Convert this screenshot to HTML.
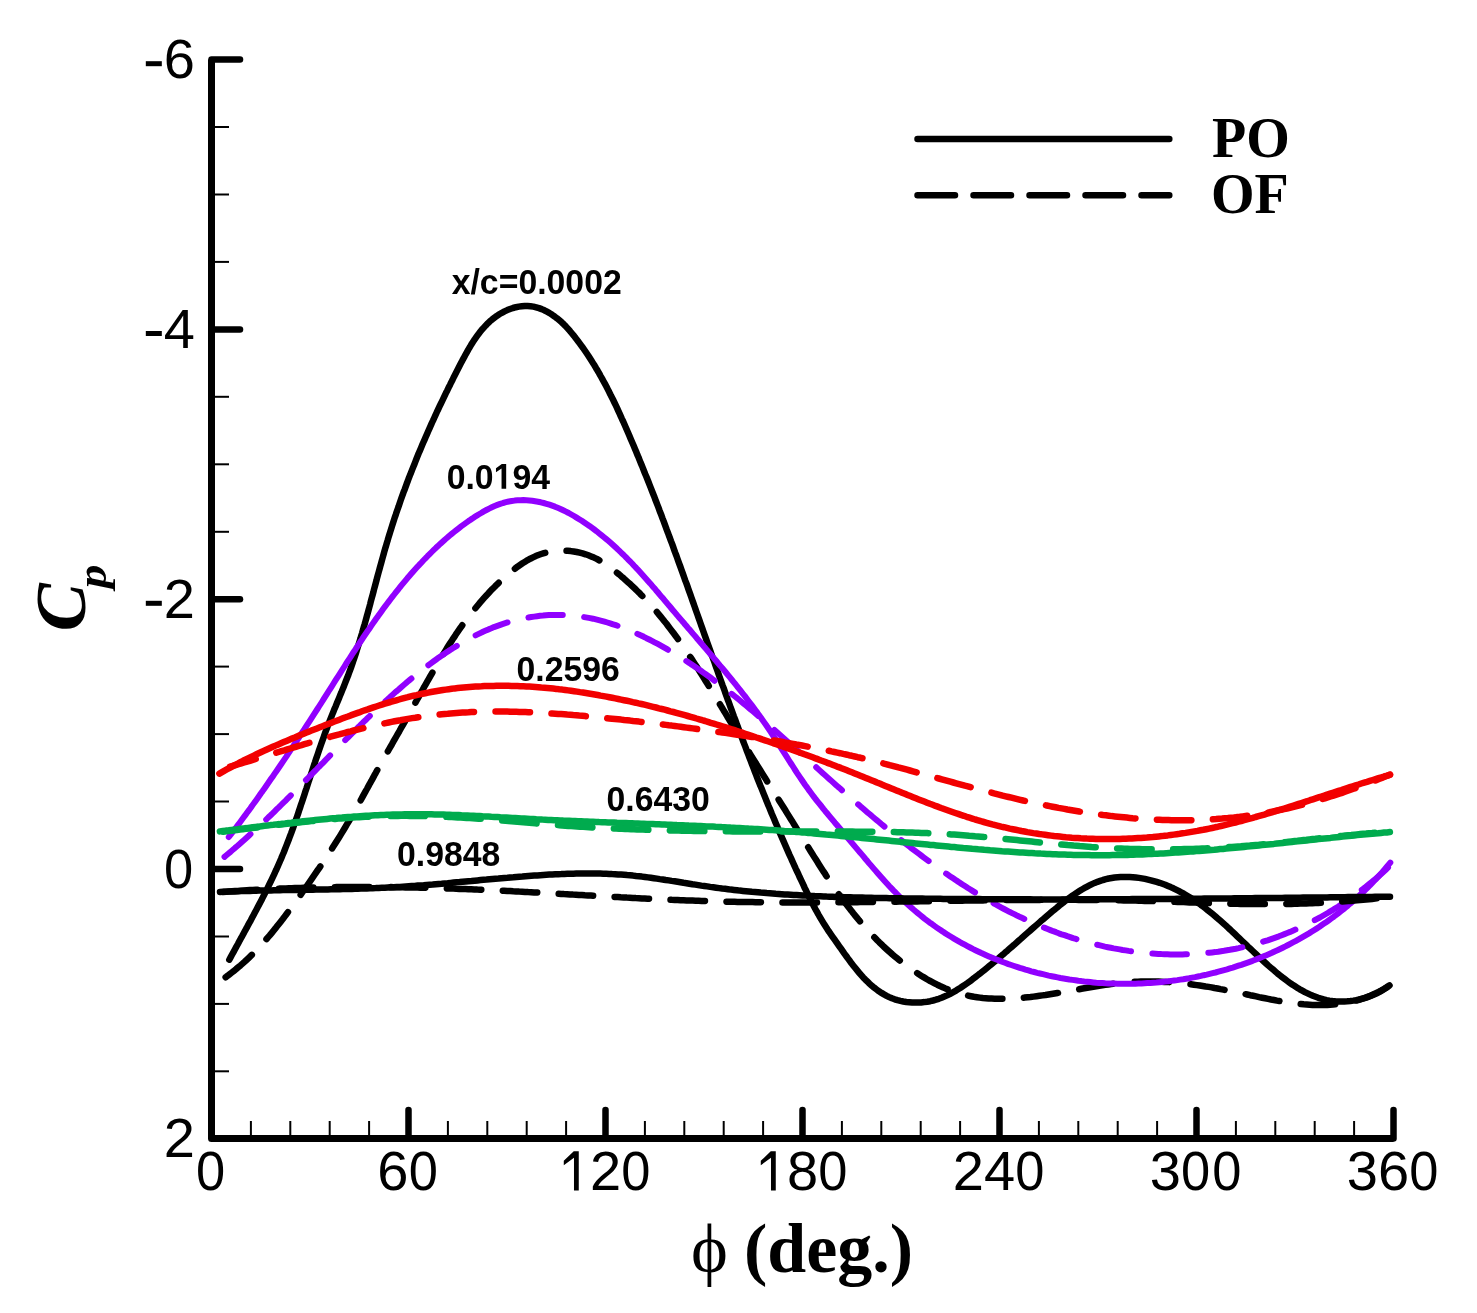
<!DOCTYPE html>
<html><head><meta charset="utf-8"><style>
html,body{margin:0;padding:0;background:#fff;}
svg{display:block;}
.t{font-family:"Liberation Sans",sans-serif;}
.s{font-family:"Liberation Serif",serif;}
</style></head><body>
<svg width="1477" height="1313" viewBox="0 0 1477 1313">
<rect width="1477" height="1313" fill="#fff"/>
<g fill="none" stroke-linecap="round" stroke-linejoin="round">
<path d="M229.3 959.7 L230.7 957.1 L232.1 954.5 L233.6 951.8 L235.0 949.2 L236.4 946.6 L237.9 944.0 L239.3 941.3 L240.7 938.7 L242.2 936.1 L243.6 933.4 L245.0 930.8 L246.5 928.2 L247.9 925.5 L249.3 922.9 L250.8 920.3 L252.2 917.6 L253.6 915.0 L255.0 912.3 L256.4 909.7 L257.8 907.0 L259.2 904.4 L260.6 901.7 L262.0 899.1 L263.3 896.4 L264.7 893.7 L266.0 891.1 L267.4 888.4 L268.7 885.7 L270.0 883.0 L271.3 880.3 L272.6 877.6 L273.9 874.9 L275.1 872.2 L276.4 869.5 L277.6 866.7 L278.8 864.0 L280.0 861.3 L281.2 858.5 L282.3 855.7 L283.5 853.0 L284.6 850.2 L285.7 847.4 L286.8 844.6 L287.9 841.8 L289.0 839.0 L290.0 836.2 L291.1 833.4 L292.1 830.6 L293.1 827.8 L294.1 825.0 L295.1 822.1 L296.1 819.3 L297.1 816.5 L298.1 813.6 L299.0 810.8 L300.0 807.9 L300.9 805.1 L301.9 802.2 L302.8 799.4 L303.8 796.5 L304.7 793.7 L305.6 790.8 L306.6 788.0 L307.5 785.1 L308.4 782.2 L309.4 779.4 L310.3 776.5 L311.2 773.7 L312.2 770.8 L313.1 768.0 L314.0 765.1 L315.0 762.3 L315.9 759.4 L316.9 756.6 L317.9 753.7 L318.8 750.9 L319.8 748.1 L320.8 745.2 L321.8 742.4 L322.8 739.6 L323.8 736.8 L324.8 733.9 L325.8 731.1 L326.9 728.3 L327.9 725.5 L329.0 722.8 L330.1 720.0 L331.2 717.2 L332.3 714.4 L333.4 711.7 L334.5 708.9 L335.7 706.2 L336.8 703.4 L338.0 700.6 L339.1 697.9 L340.2 695.1 L341.4 692.4 L342.5 689.6 L343.6 686.9 L344.7 684.1 L345.8 681.3 L346.9 678.5 L348.0 675.8 L349.0 673.0 L350.1 670.1 L351.1 667.3 L352.1 664.5 L353.0 661.7 L354.0 658.9 L355.0 656.0 L355.9 653.2 L356.8 650.3 L357.7 647.4 L358.6 644.6 L359.5 641.7 L360.4 638.8 L361.2 636.0 L362.1 633.1 L362.9 630.2 L363.7 627.3 L364.6 624.4 L365.4 621.5 L366.2 618.6 L367.0 615.7 L367.8 612.8 L368.6 609.9 L369.4 607.0 L370.2 604.0 L370.9 601.1 L371.7 598.2 L372.5 595.3 L373.3 592.4 L374.0 589.5 L374.8 586.6 L375.6 583.6 L376.4 580.7 L377.1 577.8 L377.9 574.9 L378.7 572.0 L379.5 569.1 L380.3 566.2 L381.1 563.3 L381.9 560.4 L382.7 557.5 L383.5 554.6 L384.3 551.7 L385.1 548.8 L386.0 546.0 L386.8 543.1 L387.7 540.2 L388.5 537.4 L389.4 534.5 L390.3 531.6 L391.2 528.8 L392.1 525.9 L393.0 523.1 L393.9 520.3 L394.8 517.4 L395.8 514.6 L396.7 511.8 L397.7 509.0 L398.7 506.2 L399.6 503.4 L400.6 500.5 L401.6 497.7 L402.6 494.9 L403.6 492.1 L404.7 489.4 L405.7 486.6 L406.7 483.8 L407.8 481.0 L408.8 478.2 L409.9 475.4 L411.0 472.7 L412.1 469.9 L413.2 467.1 L414.3 464.4 L415.4 461.6 L416.5 458.8 L417.6 456.1 L418.7 453.3 L419.9 450.6 L421.1 447.8 L422.2 445.1 L423.4 442.3 L424.6 439.6 L425.8 436.8 L427.0 434.1 L428.2 431.3 L429.4 428.6 L430.6 425.9 L431.8 423.1 L433.1 420.4 L434.3 417.7 L435.6 414.9 L436.8 412.2 L438.1 409.5 L439.4 406.7 L440.7 404.0 L442.0 401.3 L443.3 398.6 L444.6 395.8 L445.9 393.1 L447.3 390.4 L448.6 387.6 L450.0 384.9 L451.3 382.2 L452.7 379.5 L454.0 376.7 L455.4 374.0 L456.8 371.3 L458.2 368.6 L459.6 365.8 L461.0 363.1 L462.4 360.4 L463.9 357.7 L465.3 355.0 L466.8 352.3 L468.3 349.6 L469.9 347.0 L471.4 344.4 L473.1 341.8 L474.7 339.3 L476.4 336.9 L478.2 334.4 L480.0 332.1 L481.8 329.8 L483.8 327.6 L485.8 325.4 L487.8 323.3 L489.9 321.3 L492.2 319.4 L494.5 317.6 L496.8 315.9 L499.3 314.3 L501.9 312.8 L504.5 311.4 L507.3 310.1 L510.1 309.0 L513.0 308.0 L515.9 307.2 L518.8 306.6 L521.8 306.2 L524.7 305.9 L527.6 306.0 L530.5 306.2 L533.4 306.6 L536.2 307.3 L539.0 308.1 L541.7 309.1 L544.4 310.3 L547.0 311.7 L549.6 313.1 L552.2 314.8 L554.6 316.5 L557.0 318.3 L559.4 320.3 L561.7 322.3 L563.9 324.4 L566.0 326.6 L568.1 328.9 L570.1 331.2 L572.0 333.5 L574.0 335.9 L575.8 338.3 L577.7 340.7 L579.5 343.1 L581.3 345.6 L583.1 348.0 L584.8 350.5 L586.5 353.0 L588.2 355.5 L589.8 358.0 L591.4 360.5 L593.0 363.1 L594.6 365.6 L596.1 368.2 L597.7 370.8 L599.2 373.4 L600.6 376.0 L602.1 378.6 L603.5 381.2 L605.0 383.9 L606.4 386.5 L607.7 389.1 L609.1 391.8 L610.4 394.5 L611.8 397.2 L613.1 399.8 L614.4 402.5 L615.7 405.2 L617.0 407.9 L618.2 410.6 L619.5 413.4 L620.7 416.1 L621.9 418.8 L623.2 421.5 L624.4 424.3 L625.6 427.0 L626.8 429.8 L628.0 432.5 L629.2 435.3 L630.3 438.0 L631.5 440.8 L632.7 443.5 L633.9 446.3 L635.0 449.0 L636.2 451.8 L637.3 454.6 L638.5 457.3 L639.6 460.1 L640.7 462.9 L641.9 465.6 L643.0 468.4 L644.1 471.2 L645.2 474.0 L646.4 476.7 L647.5 479.5 L648.6 482.3 L649.7 485.1 L650.8 487.9 L651.9 490.7 L653.0 493.5 L654.1 496.2 L655.1 499.0 L656.2 501.8 L657.3 504.6 L658.4 507.4 L659.4 510.2 L660.5 513.0 L661.6 515.8 L662.6 518.6 L663.7 521.4 L664.7 524.2 L665.8 527.1 L666.8 529.9 L667.9 532.7 L668.9 535.5 L670.0 538.3 L671.0 541.1 L672.1 543.9 L673.1 546.7 L674.1 549.6 L675.1 552.4 L676.2 555.2 L677.2 558.0 L678.2 560.8 L679.2 563.6 L680.3 566.5 L681.3 569.3 L682.3 572.1 L683.3 574.9 L684.3 577.8 L685.3 580.6 L686.4 583.4 L687.4 586.2 L688.4 589.1 L689.4 591.9 L690.4 594.7 L691.4 597.5 L692.4 600.4 L693.4 603.2 L694.4 606.0 L695.4 608.8 L696.4 611.7 L697.4 614.5 L698.4 617.3 L699.4 620.1 L700.4 623.0 L701.4 625.8 L702.4 628.6 L703.4 631.5 L704.4 634.3 L705.4 637.1 L706.4 639.9 L707.4 642.8 L708.4 645.6 L709.4 648.4 L710.4 651.2 L711.4 654.1 L712.4 656.9 L713.5 659.7 L714.5 662.5 L715.5 665.4 L716.5 668.2 L717.5 671.0 L718.5 673.8 L719.5 676.7 L720.5 679.5 L721.5 682.3 L722.5 685.1 L723.6 687.9 L724.6 690.8 L725.6 693.6 L726.6 696.4 L727.6 699.2 L728.7 702.0 L729.7 704.8 L730.7 707.7 L731.8 710.5 L732.8 713.3 L733.8 716.1 L734.9 718.9 L735.9 721.7 L736.9 724.5 L738.0 727.3 L739.0 730.1 L740.1 732.9 L741.1 735.7 L742.2 738.5 L743.2 741.3 L744.3 744.1 L745.4 746.9 L746.4 749.7 L747.5 752.5 L748.6 755.3 L749.6 758.1 L750.7 760.9 L751.8 763.7 L752.9 766.5 L754.0 769.3 L755.0 772.1 L756.1 774.9 L757.2 777.7 L758.3 780.5 L759.4 783.2 L760.5 786.0 L761.7 788.8 L762.8 791.6 L763.9 794.4 L765.0 797.1 L766.1 799.9 L767.3 802.7 L768.4 805.5 L769.6 808.2 L770.7 811.0 L771.8 813.8 L773.0 816.5 L774.2 819.3 L775.3 822.1 L776.5 824.8 L777.7 827.6 L778.8 830.4 L780.0 833.1 L781.2 835.9 L782.4 838.6 L783.6 841.4 L784.8 844.1 L786.0 846.9 L787.2 849.6 L788.4 852.4 L789.6 855.1 L790.9 857.8 L792.1 860.6 L793.3 863.3 L794.6 866.1 L795.8 868.8 L797.1 871.5 L798.4 874.2 L799.6 877.0 L800.9 879.7 L802.2 882.4 L803.5 885.1 L804.7 887.9 L806.1 890.6 L807.4 893.3 L808.7 896.0 L810.0 898.7 L811.4 901.3 L812.7 904.0 L814.1 906.6 L815.5 909.3 L817.0 911.9 L818.4 914.5 L819.9 917.1 L821.4 919.6 L822.9 922.1 L824.4 924.6 L826.0 927.1 L827.6 929.6 L829.3 932.0 L830.9 934.4 L832.6 936.8 L834.3 939.2 L836.0 941.6 L837.6 943.9 L839.3 946.3 L841.0 948.7 L842.7 951.2 L844.4 953.6 L846.2 956.0 L847.9 958.4 L849.7 960.8 L851.5 963.3 L853.4 965.7 L855.3 968.1 L857.2 970.4 L859.2 972.8 L861.2 975.1 L863.2 977.4 L865.3 979.6 L867.5 981.7 L869.7 983.8 L871.9 985.8 L874.2 987.7 L876.6 989.5 L879.0 991.3 L881.5 992.9 L884.0 994.4 L886.6 995.8 L889.2 997.1 L891.9 998.3 L894.7 999.3 L897.5 1000.2 L900.4 1000.9 L903.3 1001.5 L906.3 1002.0 L909.2 1002.3 L912.2 1002.6 L915.2 1002.6 L918.2 1002.6 L921.2 1002.4 L924.2 1002.1 L927.2 1001.7 L930.2 1001.2 L933.1 1000.5 L936.0 999.7 L938.8 998.8 L941.6 997.8 L944.4 996.6 L947.1 995.4 L949.8 994.1 L952.4 992.7 L955.1 991.2 L957.6 989.6 L960.2 988.0 L962.7 986.3 L965.2 984.6 L967.7 982.9 L970.2 981.1 L972.6 979.2 L975.0 977.4 L977.4 975.5 L979.8 973.7 L982.2 971.8 L984.5 969.9 L986.9 968.0 L989.2 966.1 L991.5 964.2 L993.8 962.3 L996.1 960.4 L998.4 958.4 L1000.6 956.5 L1002.9 954.6 L1005.1 952.6 L1007.4 950.7 L1009.6 948.7 L1011.9 946.7 L1014.1 944.8 L1016.3 942.8 L1018.6 940.8 L1020.8 938.9 L1023.0 936.9 L1025.2 934.9 L1027.5 932.9 L1029.7 931.0 L1031.9 929.0 L1034.2 927.0 L1036.4 925.1 L1038.7 923.1 L1040.9 921.1 L1043.2 919.2 L1045.5 917.2 L1047.8 915.2 L1050.1 913.3 L1052.4 911.3 L1054.7 909.4 L1057.1 907.5 L1059.4 905.5 L1061.8 903.6 L1064.2 901.8 L1066.6 899.9 L1069.0 898.1 L1071.5 896.3 L1074.0 894.6 L1076.5 892.9 L1079.0 891.3 L1081.5 889.7 L1084.1 888.2 L1086.7 886.8 L1089.4 885.4 L1092.0 884.1 L1094.7 882.9 L1097.5 881.8 L1100.2 880.9 L1103.0 880.0 L1105.9 879.2 L1108.7 878.5 L1111.7 878.0 L1114.6 877.5 L1117.6 877.2 L1120.6 877.0 L1123.6 876.9 L1126.7 876.9 L1129.7 877.0 L1132.8 877.2 L1135.8 877.5 L1138.9 877.9 L1141.9 878.4 L1144.9 878.9 L1147.9 879.6 L1150.9 880.3 L1153.8 881.1 L1156.7 881.9 L1159.6 882.8 L1162.4 883.8 L1165.2 884.8 L1168.0 886.0 L1170.7 887.1 L1173.4 888.3 L1176.0 889.6 L1178.6 890.9 L1181.2 892.3 L1183.8 893.7 L1186.3 895.2 L1188.8 896.7 L1191.3 898.3 L1193.8 899.9 L1196.2 901.6 L1198.6 903.2 L1201.0 905.0 L1203.4 906.7 L1205.7 908.5 L1208.0 910.4 L1210.3 912.2 L1212.6 914.1 L1214.9 916.0 L1217.2 918.0 L1219.5 919.9 L1221.7 921.9 L1223.9 923.9 L1226.2 925.9 L1228.4 928.0 L1230.6 930.0 L1232.8 932.1 L1235.0 934.2 L1237.2 936.3 L1239.4 938.4 L1241.6 940.5 L1243.8 942.6 L1246.0 944.7 L1248.2 946.8 L1250.5 948.9 L1252.7 951.0 L1254.9 953.1 L1257.1 955.2 L1259.4 957.3 L1261.6 959.4 L1263.9 961.5 L1266.1 963.5 L1268.4 965.6 L1270.7 967.6 L1273.1 969.6 L1275.4 971.6 L1277.7 973.6 L1280.1 975.5 L1282.5 977.4 L1284.9 979.2 L1287.3 981.0 L1289.8 982.8 L1292.2 984.5 L1294.7 986.1 L1297.2 987.7 L1299.8 989.3 L1302.3 990.7 L1304.9 992.1 L1307.6 993.4 L1310.2 994.6 L1312.9 995.8 L1315.6 996.8 L1318.3 997.8 L1321.0 998.6 L1323.8 999.4 L1326.6 1000.1 L1329.5 1000.6 L1332.4 1001.0 L1335.3 1001.3 L1338.2 1001.5 L1341.2 1001.6 L1344.2 1001.5 L1347.2 1001.3 L1350.3 1001.0 L1353.3 1000.6 L1356.3 1000.1 L1359.4 999.4 L1362.4 998.7 L1365.3 997.8 L1368.3 996.8 L1371.2 995.8 L1374.0 994.6 L1376.8 993.3 L1379.5 991.9 L1382.1 990.4 L1384.7 988.8 L1387.2 987.2 L1389.5 985.4" stroke="#000" stroke-width="6.5"/>
<path d="M223.9 978.4 L226.4 976.7 L228.8 974.9 L231.2 973.0 L233.6 971.2 L235.9 969.3 L238.2 967.3 L240.5 965.4 L242.8 963.4 L245.0 961.4 L247.2 959.3 L249.3 957.3 L251.5 955.2 L253.6 953.1 L255.7 950.9 L257.7 948.8 L259.8 946.6 L261.8 944.4 L263.8 942.1 L265.8 939.9 L267.7 937.6 L269.7 935.4 L271.6 933.1 L273.5 930.7 L275.4 928.4 L277.2 926.1 L279.1 923.7 L280.9 921.4 L282.8 919.0 L284.6 916.6 L286.4 914.2 L288.2 911.8 L290.0 909.4 L291.8 907.0 L293.5 904.5 L295.3 902.1 L297.1 899.7 L298.8 897.2 L300.6 894.8 L302.3 892.4 L304.0 889.9 L305.8 887.5 L307.5 885.0 L309.2 882.6 L310.9 880.1 L312.6 877.6 L314.3 875.2 L316.0 872.7 L317.7 870.2 L319.4 867.8 L321.1 865.3 L322.7 862.8 L324.4 860.3 L326.0 857.8 L327.7 855.3 L329.3 852.8 L330.9 850.3 L332.5 847.8 L334.1 845.3 L335.7 842.7 L337.3 840.2 L338.9 837.7 L340.5 835.1 L342.0 832.6 L343.6 830.0 L345.1 827.5 L346.6 824.9 L348.2 822.3 L349.7 819.8 L351.2 817.2 L352.6 814.6 L354.1 812.0 L355.6 809.4 L357.1 806.8 L358.5 804.2 L360.0 801.6 L361.4 799.0 L362.8 796.4 L364.3 793.7 L365.7 791.1 L367.2 788.5 L368.6 785.9 L370.0 783.3 L371.5 780.7 L372.9 778.1 L374.3 775.4 L375.8 772.8 L377.2 770.2 L378.7 767.6 L380.1 765.0 L381.6 762.4 L383.0 759.8 L384.5 757.2 L386.0 754.6 L387.4 752.1 L388.9 749.5 L390.4 746.9 L391.9 744.3 L393.3 741.7 L394.8 739.1 L396.3 736.5 L397.8 733.9 L399.3 731.3 L400.7 728.7 L402.2 726.1 L403.7 723.6 L405.2 721.0 L406.6 718.3 L408.1 715.7 L409.6 713.1 L411.1 710.5 L412.5 707.9 L414.0 705.3 L415.4 702.7 L416.9 700.0 L418.4 697.4 L419.8 694.8 L421.3 692.2 L422.8 689.5 L424.2 686.9 L425.7 684.3 L427.2 681.7 L428.7 679.1 L430.2 676.4 L431.7 673.8 L433.2 671.2 L434.7 668.6 L436.2 666.0 L437.7 663.5 L439.2 660.9 L440.8 658.3 L442.3 655.7 L443.9 653.2 L445.5 650.6 L447.0 648.1 L448.6 645.6 L450.2 643.1 L451.9 640.6 L453.5 638.1 L455.2 635.6 L456.8 633.1 L458.5 630.7 L460.2 628.2 L461.9 625.8 L463.7 623.4 L465.4 621.0 L467.2 618.6 L469.0 616.3 L470.8 613.9 L472.6 611.6 L474.5 609.3 L476.4 607.0 L478.3 604.7 L480.2 602.4 L482.2 600.1 L484.1 597.9 L486.1 595.7 L488.2 593.5 L490.2 591.3 L492.3 589.1 L494.5 587.0 L496.6 584.8 L498.8 582.7 L501.0 580.6 L503.3 578.5 L505.5 576.4 L507.9 574.4 L510.2 572.4 L512.6 570.5 L515.0 568.6 L517.5 566.7 L520.0 565.0 L522.5 563.3 L525.1 561.7 L527.7 560.1 L530.3 558.7 L533.0 557.4 L535.7 556.1 L538.4 555.0 L541.2 554.0 L544.0 553.1 L546.9 552.3 L549.8 551.7 L552.7 551.3 L555.7 550.9 L558.7 550.7 L561.7 550.6 L564.7 550.6 L567.7 550.8 L570.7 551.1 L573.7 551.5 L576.7 552.0 L579.6 552.7 L582.6 553.4 L585.5 554.3 L588.4 555.3 L591.2 556.4 L594.0 557.6 L596.8 558.9 L599.4 560.4 L602.1 561.9 L604.6 563.5 L607.1 565.2 L609.6 567.0 L612.0 568.8 L614.4 570.6 L616.7 572.5 L619.1 574.4 L621.4 576.4 L623.7 578.3 L625.9 580.3 L628.1 582.3 L630.4 584.3 L632.5 586.3 L634.7 588.4 L636.8 590.5 L639.0 592.6 L641.0 594.7 L643.1 596.8 L645.2 599.0 L647.2 601.2 L649.2 603.4 L651.2 605.6 L653.2 607.8 L655.1 610.0 L657.1 612.3 L659.0 614.6 L660.9 616.9 L662.8 619.2 L664.6 621.5 L666.5 623.8 L668.3 626.2 L670.1 628.6 L671.9 630.9 L673.7 633.3 L675.5 635.7 L677.3 638.2 L679.0 640.6 L680.7 643.0 L682.5 645.5 L684.2 647.9 L685.9 650.4 L687.6 652.9 L689.2 655.4 L690.9 657.9 L692.6 660.4 L694.2 662.9 L695.8 665.4 L697.5 667.9 L699.1 670.5 L700.7 673.0 L702.3 675.5 L703.9 678.1 L705.5 680.7 L707.1 683.2 L708.7 685.8 L710.3 688.3 L711.8 690.9 L713.4 693.5 L715.0 696.1 L716.5 698.6 L718.1 701.2 L719.6 703.8 L721.2 706.4 L722.8 709.0 L724.3 711.6 L725.9 714.1 L727.4 716.7 L729.0 719.3 L730.5 721.9 L732.1 724.5 L733.6 727.0 L735.2 729.6 L736.7 732.2 L738.3 734.7 L739.8 737.3 L741.4 739.8 L743.0 742.4 L744.5 745.0 L746.1 747.5 L747.7 750.1 L749.3 752.6 L750.8 755.1 L752.4 757.7 L754.0 760.2 L755.6 762.7 L757.1 765.3 L758.7 767.8 L760.3 770.3 L761.9 772.9 L763.5 775.4 L765.1 777.9 L766.6 780.5 L768.2 783.0 L769.8 785.5 L771.4 788.0 L773.0 790.6 L774.6 793.1 L776.2 795.6 L777.7 798.1 L779.3 800.7 L780.9 803.2 L782.5 805.7 L784.1 808.3 L785.7 810.8 L787.2 813.3 L788.8 815.9 L790.4 818.4 L792.0 820.9 L793.5 823.5 L795.1 826.0 L796.7 828.6 L798.2 831.1 L799.8 833.6 L801.4 836.2 L802.9 838.7 L804.5 841.3 L806.1 843.8 L807.7 846.4 L809.2 848.9 L810.8 851.5 L812.4 854.0 L814.0 856.6 L815.6 859.1 L817.2 861.6 L818.8 864.2 L820.4 866.7 L822.0 869.2 L823.6 871.7 L825.3 874.2 L826.9 876.8 L828.6 879.3 L830.3 881.7 L832.0 884.2 L833.7 886.7 L835.4 889.2 L837.1 891.6 L838.8 894.1 L840.6 896.5 L842.4 898.9 L844.1 901.4 L845.9 903.8 L847.8 906.2 L849.6 908.5 L851.5 910.9 L853.3 913.3 L855.2 915.6 L857.1 917.9 L859.0 920.2 L861.0 922.5 L862.9 924.8 L864.9 927.1 L866.9 929.3 L868.9 931.5 L871.0 933.7 L873.0 935.9 L875.1 938.0 L877.2 940.2 L879.3 942.3 L881.5 944.4 L883.6 946.5 L885.8 948.5 L888.0 950.5 L890.3 952.5 L892.5 954.5 L894.8 956.4 L897.1 958.3 L899.4 960.2 L901.8 962.1 L904.1 963.9 L906.5 965.7 L909.0 967.5 L911.4 969.2 L913.9 970.9 L916.4 972.6 L918.9 974.3 L921.5 975.9 L924.0 977.4 L926.6 979.0 L929.2 980.5 L931.9 981.9 L934.6 983.3 L937.3 984.7 L940.0 986.0 L942.7 987.2 L945.4 988.4 L948.2 989.5 L951.0 990.6 L953.8 991.6 L956.6 992.6 L959.5 993.4 L962.3 994.2 L965.2 995.0 L968.1 995.6 L971.0 996.2 L973.9 996.8 L976.9 997.2 L979.8 997.6 L982.8 998.0 L985.7 998.2 L988.7 998.5 L991.7 998.6 L994.6 998.7 L997.6 998.8 L1000.6 998.8 L1003.6 998.8 L1006.6 998.8 L1009.6 998.7 L1012.6 998.5 L1015.6 998.3 L1018.6 998.1 L1021.6 997.9 L1024.6 997.6 L1027.6 997.3 L1030.5 997.0 L1033.5 996.6 L1036.5 996.2 L1039.5 995.8 L1042.5 995.4 L1045.5 995.0 L1048.5 994.5 L1051.5 994.0 L1054.5 993.5 L1057.5 993.0 L1060.5 992.5 L1063.4 992.0 L1066.4 991.5 L1069.4 991.0 L1072.4 990.4 L1075.4 989.9 L1078.4 989.4 L1081.4 988.8 L1084.3 988.3 L1087.3 987.8 L1090.3 987.3 L1093.3 986.8 L1096.3 986.3 L1099.2 985.8 L1102.2 985.4 L1105.2 984.9 L1108.2 984.5 L1111.1 984.1 L1114.1 983.7 L1117.1 983.4 L1120.0 983.0 L1123.0 982.7 L1126.0 982.5 L1128.9 982.2 L1131.9 982.0 L1134.9 981.8 L1137.8 981.7 L1140.8 981.6 L1143.7 981.5 L1146.7 981.5 L1149.6 981.5 L1152.6 981.5 L1155.5 981.5 L1158.5 981.6 L1161.4 981.7 L1164.4 981.9 L1167.3 982.0 L1170.3 982.2 L1173.2 982.5 L1176.2 982.7 L1179.1 983.0 L1182.1 983.3 L1185.0 983.6 L1188.0 983.9 L1190.9 984.3 L1193.9 984.7 L1196.8 985.1 L1199.8 985.5 L1202.7 986.0 L1205.7 986.5 L1208.6 986.9 L1211.6 987.4 L1214.5 988.0 L1217.5 988.5 L1220.5 989.1 L1223.4 989.6 L1226.4 990.2 L1229.4 990.8 L1232.3 991.4 L1235.3 992.0 L1238.3 992.6 L1241.2 993.3 L1244.2 993.9 L1247.2 994.5 L1250.2 995.2 L1253.2 995.8 L1256.1 996.4 L1259.1 997.1 L1262.1 997.7 L1265.1 998.3 L1268.1 998.9 L1271.0 999.5 L1274.0 1000.0 L1277.0 1000.6 L1280.0 1001.1 L1282.9 1001.6 L1285.9 1002.1 L1288.9 1002.5 L1291.9 1002.9 L1294.8 1003.3 L1297.8 1003.7 L1300.7 1004.0 L1303.7 1004.3 L1306.7 1004.5 L1309.6 1004.7 L1312.6 1004.9 L1315.5 1005.0 L1318.4 1005.1 L1321.4 1005.1 L1324.3 1005.0 L1327.2 1005.0 L1330.1 1004.8 L1333.0 1004.6 L1335.9 1004.3 L1338.8 1004.0 L1341.7 1003.6 L1344.6 1003.2 L1347.5 1002.6 L1350.4 1002.1 L1353.3 1001.4 L1356.1 1000.6 L1359.0 999.8 L1361.8 998.9 L1364.6 998.0 L1367.5 996.9 L1370.3 995.8 L1373.1 994.5 L1375.9 993.2 L1378.7 991.8 L1381.5 990.3 L1384.3 988.7 L1387.0 987.0 L1389.8 985.2" stroke="#000" stroke-width="6.5" stroke-dasharray="34.5 21.5" stroke-dashoffset="53.9"/>
<path d="M228.8 837.0 L230.6 834.6 L232.4 832.3 L234.3 829.9 L236.1 827.5 L237.9 825.1 L239.7 822.7 L241.5 820.2 L243.3 817.8 L245.1 815.4 L246.8 813.0 L248.6 810.6 L250.4 808.2 L252.1 805.7 L253.9 803.3 L255.6 800.9 L257.4 798.4 L259.1 796.0 L260.8 793.5 L262.6 791.1 L264.3 788.7 L266.0 786.2 L267.7 783.8 L269.4 781.3 L271.1 778.8 L272.8 776.4 L274.5 773.9 L276.2 771.5 L277.9 769.0 L279.6 766.5 L281.3 764.0 L282.9 761.6 L284.6 759.1 L286.3 756.6 L287.9 754.1 L289.6 751.6 L291.2 749.2 L292.9 746.7 L294.5 744.2 L296.2 741.7 L297.8 739.2 L299.5 736.7 L301.1 734.2 L302.7 731.7 L304.4 729.2 L306.0 726.7 L307.6 724.2 L309.3 721.6 L310.9 719.1 L312.5 716.6 L314.1 714.1 L315.7 711.6 L317.4 709.0 L319.0 706.5 L320.6 704.0 L322.2 701.5 L323.8 698.9 L325.4 696.4 L327.0 693.9 L328.6 691.3 L330.2 688.8 L331.8 686.3 L333.4 683.7 L335.0 681.2 L336.6 678.7 L338.3 676.1 L339.9 673.6 L341.5 671.0 L343.1 668.5 L344.7 666.0 L346.3 663.4 L347.9 660.9 L349.6 658.4 L351.2 655.9 L352.8 653.3 L354.5 650.8 L356.1 648.3 L357.8 645.8 L359.4 643.3 L361.1 640.8 L362.7 638.3 L364.4 635.8 L366.1 633.3 L367.8 630.8 L369.5 628.4 L371.2 625.9 L372.9 623.4 L374.6 621.0 L376.3 618.5 L378.1 616.1 L379.8 613.7 L381.6 611.2 L383.3 608.8 L385.1 606.4 L386.9 604.0 L388.7 601.6 L390.5 599.2 L392.3 596.9 L394.2 594.5 L396.0 592.2 L397.9 589.8 L399.7 587.5 L401.6 585.2 L403.5 582.9 L405.4 580.6 L407.3 578.3 L409.3 576.0 L411.2 573.8 L413.2 571.5 L415.2 569.3 L417.2 567.1 L419.2 564.9 L421.3 562.7 L423.3 560.5 L425.4 558.4 L427.5 556.2 L429.6 554.1 L431.7 552.0 L433.8 549.9 L436.0 547.8 L438.2 545.8 L440.4 543.7 L442.6 541.7 L444.8 539.7 L447.1 537.8 L449.4 535.8 L451.7 533.9 L454.0 532.0 L456.4 530.1 L458.7 528.3 L461.1 526.4 L463.6 524.6 L466.0 522.9 L468.5 521.1 L471.0 519.4 L473.5 517.8 L476.0 516.1 L478.6 514.5 L481.2 513.0 L483.8 511.4 L486.4 510.0 L489.1 508.6 L491.8 507.3 L494.6 506.0 L497.4 504.9 L500.2 503.9 L503.0 503.0 L505.9 502.2 L508.8 501.5 L511.7 501.0 L514.6 500.6 L517.6 500.3 L520.5 500.2 L523.4 500.1 L526.4 500.2 L529.3 500.4 L532.2 500.7 L535.1 501.2 L538.0 501.7 L540.8 502.3 L543.7 503.0 L546.5 503.8 L549.4 504.7 L552.2 505.7 L555.0 506.7 L557.7 507.8 L560.5 509.0 L563.2 510.3 L566.0 511.6 L568.7 513.0 L571.3 514.5 L574.0 516.0 L576.6 517.6 L579.2 519.2 L581.8 520.8 L584.3 522.5 L586.9 524.2 L589.4 525.9 L591.8 527.7 L594.3 529.5 L596.7 531.3 L599.0 533.2 L601.4 535.1 L603.7 537.0 L606.0 538.9 L608.3 540.8 L610.6 542.8 L612.8 544.8 L615.0 546.8 L617.2 548.8 L619.4 550.9 L621.5 553.0 L623.7 555.0 L625.8 557.1 L627.9 559.3 L630.0 561.4 L632.1 563.5 L634.1 565.7 L636.2 567.9 L638.2 570.1 L640.2 572.3 L642.2 574.5 L644.2 576.7 L646.2 578.9 L648.2 581.2 L650.2 583.4 L652.1 585.7 L654.1 587.9 L656.0 590.2 L658.0 592.5 L659.9 594.8 L661.8 597.1 L663.8 599.3 L665.7 601.6 L667.6 603.9 L669.6 606.2 L671.5 608.5 L673.4 610.8 L675.4 613.1 L677.3 615.4 L679.3 617.7 L681.2 619.9 L683.2 622.2 L685.1 624.5 L687.1 626.8 L689.0 629.1 L691.0 631.3 L692.9 633.6 L694.9 635.9 L696.8 638.2 L698.8 640.5 L700.7 642.7 L702.7 645.0 L704.6 647.3 L706.6 649.6 L708.5 651.9 L710.5 654.2 L712.4 656.4 L714.3 658.7 L716.3 661.0 L718.2 663.3 L720.1 665.6 L722.1 667.9 L724.0 670.2 L725.9 672.5 L727.8 674.9 L729.7 677.2 L731.6 679.5 L733.5 681.8 L735.4 684.2 L737.2 686.5 L739.1 688.8 L741.0 691.2 L742.8 693.6 L744.7 695.9 L746.5 698.3 L748.3 700.7 L750.1 703.0 L751.9 705.4 L753.7 707.8 L755.5 710.2 L757.3 712.6 L759.0 715.1 L760.8 717.5 L762.5 719.9 L764.2 722.4 L765.9 724.8 L767.6 727.3 L769.3 729.8 L771.0 732.3 L772.6 734.8 L774.2 737.3 L775.9 739.8 L777.5 742.3 L779.1 744.8 L780.7 747.3 L782.3 749.9 L783.9 752.4 L785.5 754.9 L787.1 757.4 L788.7 760.0 L790.3 762.5 L792.0 765.0 L793.6 767.5 L795.2 770.1 L796.8 772.6 L798.5 775.1 L800.2 777.6 L801.8 780.0 L803.5 782.5 L805.2 785.0 L807.0 787.4 L808.7 789.9 L810.5 792.3 L812.3 794.7 L814.1 797.1 L815.9 799.5 L817.8 801.8 L819.7 804.2 L821.6 806.5 L823.4 808.9 L825.3 811.2 L827.3 813.5 L829.2 815.8 L831.1 818.1 L833.0 820.4 L834.9 822.7 L836.9 825.0 L838.8 827.2 L840.7 829.5 L842.6 831.8 L844.5 834.0 L846.4 836.3 L848.3 838.6 L850.2 840.8 L852.1 843.1 L854.0 845.4 L855.9 847.6 L857.8 849.9 L859.8 852.2 L861.7 854.4 L863.6 856.7 L865.5 859.0 L867.5 861.3 L869.4 863.6 L871.4 865.9 L873.3 868.1 L875.3 870.4 L877.3 872.7 L879.3 875.0 L881.3 877.2 L883.3 879.5 L885.3 881.7 L887.4 884.0 L889.4 886.2 L891.5 888.4 L893.6 890.6 L895.7 892.7 L897.8 894.9 L899.9 897.0 L902.1 899.1 L904.3 901.2 L906.5 903.3 L908.7 905.3 L910.9 907.3 L913.2 909.3 L915.5 911.2 L917.8 913.1 L920.1 915.0 L922.4 916.9 L924.8 918.8 L927.2 920.6 L929.5 922.4 L932.0 924.1 L934.4 925.9 L936.8 927.6 L939.3 929.3 L941.8 930.9 L944.3 932.6 L946.8 934.2 L949.3 935.8 L951.8 937.3 L954.4 938.9 L957.0 940.4 L959.6 941.9 L962.2 943.3 L964.8 944.7 L967.4 946.1 L970.1 947.5 L972.7 948.9 L975.4 950.2 L978.1 951.5 L980.8 952.8 L983.5 954.0 L986.2 955.2 L988.9 956.4 L991.7 957.6 L994.5 958.7 L997.2 959.8 L1000.0 960.9 L1002.8 962.0 L1005.6 963.0 L1008.4 964.1 L1011.2 965.0 L1014.1 966.0 L1016.9 966.9 L1019.8 967.9 L1022.6 968.7 L1025.5 969.6 L1028.4 970.4 L1031.3 971.3 L1034.2 972.0 L1037.1 972.8 L1040.0 973.5 L1042.9 974.2 L1045.8 974.9 L1048.7 975.6 L1051.7 976.2 L1054.6 976.8 L1057.6 977.4 L1060.5 978.0 L1063.5 978.5 L1066.4 979.0 L1069.4 979.5 L1072.4 979.9 L1075.4 980.3 L1078.3 980.8 L1081.3 981.1 L1084.3 981.5 L1087.3 981.8 L1090.3 982.1 L1093.3 982.4 L1096.3 982.7 L1099.3 982.9 L1102.3 983.1 L1105.3 983.3 L1108.3 983.4 L1111.3 983.5 L1114.3 983.6 L1117.3 983.7 L1120.3 983.8 L1123.3 983.8 L1126.3 983.8 L1129.3 983.8 L1132.4 983.7 L1135.4 983.7 L1138.4 983.6 L1141.4 983.5 L1144.4 983.3 L1147.4 983.1 L1150.4 982.9 L1153.4 982.7 L1156.4 982.5 L1159.4 982.2 L1162.3 981.9 L1165.3 981.6 L1168.3 981.3 L1171.3 980.9 L1174.3 980.5 L1177.3 980.1 L1180.2 979.6 L1183.2 979.2 L1186.1 978.7 L1189.1 978.2 L1192.1 977.6 L1195.0 977.1 L1197.9 976.5 L1200.9 975.9 L1203.8 975.2 L1206.7 974.6 L1209.7 973.9 L1212.6 973.2 L1215.5 972.5 L1218.4 971.7 L1221.3 970.9 L1224.2 970.1 L1227.0 969.3 L1229.9 968.4 L1232.8 967.6 L1235.6 966.7 L1238.5 965.7 L1241.3 964.8 L1244.1 963.8 L1247.0 962.8 L1249.8 961.8 L1252.6 960.8 L1255.4 959.7 L1258.2 958.6 L1260.9 957.5 L1263.7 956.3 L1266.4 955.2 L1269.2 954.0 L1271.9 952.8 L1274.6 951.5 L1277.4 950.3 L1280.1 949.0 L1282.7 947.7 L1285.4 946.4 L1288.1 945.0 L1290.7 943.6 L1293.4 942.2 L1296.0 940.8 L1298.6 939.4 L1301.2 937.9 L1303.8 936.4 L1306.4 934.9 L1309.0 933.4 L1311.5 931.8 L1314.0 930.2 L1316.6 928.6 L1319.1 927.0 L1321.5 925.3 L1324.0 923.6 L1326.5 921.9 L1328.9 920.2 L1331.4 918.4 L1333.8 916.7 L1336.2 914.9 L1338.5 913.1 L1340.9 911.2 L1343.3 909.4 L1345.6 907.5 L1347.9 905.6 L1350.2 903.6 L1352.5 901.7 L1354.7 899.7 L1357.0 897.7 L1359.2 895.7 L1361.4 893.6 L1363.6 891.5 L1365.8 889.4 L1367.9 887.3 L1370.1 885.2 L1372.2 883.0 L1374.3 880.8 L1376.4 878.6 L1378.4 876.4 L1380.4 874.2 L1382.5 871.9 L1384.4 869.6 L1386.4 867.3 L1388.4 864.9 L1390.3 862.6" stroke="#9100FF" stroke-width="6.0"/>
<path d="M223.5 857.7 L225.8 855.8 L228.2 853.8 L230.5 851.9 L232.7 849.9 L235.0 847.9 L237.3 846.0 L239.6 844.0 L241.8 842.0 L244.1 840.0 L246.3 838.0 L248.5 836.0 L250.7 833.9 L253.0 831.9 L255.2 829.9 L257.4 827.8 L259.6 825.8 L261.7 823.7 L263.9 821.7 L266.1 819.6 L268.2 817.5 L270.4 815.5 L272.6 813.4 L274.7 811.3 L276.8 809.2 L279.0 807.1 L281.1 805.0 L283.2 802.9 L285.4 800.8 L287.5 798.7 L289.6 796.6 L291.7 794.5 L293.8 792.4 L295.9 790.3 L298.0 788.1 L300.1 786.0 L302.2 783.9 L304.3 781.8 L306.4 779.6 L308.5 777.5 L310.6 775.4 L312.7 773.2 L314.8 771.1 L316.9 769.0 L319.0 766.8 L321.1 764.7 L323.2 762.6 L325.3 760.4 L327.3 758.3 L329.4 756.2 L331.5 754.1 L333.6 751.9 L335.7 749.8 L337.8 747.7 L339.9 745.5 L342.0 743.4 L344.1 741.3 L346.2 739.2 L348.4 737.1 L350.5 735.0 L352.6 732.8 L354.7 730.7 L356.8 728.6 L359.0 726.5 L361.1 724.4 L363.2 722.3 L365.4 720.3 L367.5 718.2 L369.7 716.1 L371.8 714.0 L374.0 712.0 L376.2 709.9 L378.4 707.8 L380.6 705.8 L382.7 703.7 L384.9 701.7 L387.2 699.7 L389.4 697.7 L391.6 695.6 L393.8 693.6 L396.1 691.6 L398.4 689.7 L400.6 687.7 L402.9 685.7 L405.2 683.8 L407.5 681.8 L409.8 679.9 L412.1 678.0 L414.5 676.1 L416.8 674.2 L419.2 672.3 L421.6 670.4 L424.0 668.5 L426.4 666.7 L428.8 664.9 L431.2 663.1 L433.7 661.3 L436.2 659.5 L438.6 657.7 L441.1 656.0 L443.7 654.3 L446.2 652.6 L448.7 650.9 L451.3 649.3 L453.8 647.6 L456.4 646.1 L459.0 644.5 L461.6 642.9 L464.3 641.4 L466.9 640.0 L469.6 638.5 L472.2 637.1 L474.9 635.7 L477.6 634.4 L480.3 633.1 L483.0 631.8 L485.8 630.6 L488.5 629.4 L491.3 628.3 L494.0 627.1 L496.8 626.1 L499.6 625.1 L502.4 624.1 L505.3 623.2 L508.1 622.3 L511.0 621.4 L513.8 620.7 L516.7 619.9 L519.6 619.2 L522.5 618.6 L525.4 618.0 L528.3 617.5 L531.2 617.0 L534.2 616.6 L537.1 616.2 L540.0 615.8 L543.0 615.6 L545.9 615.3 L548.9 615.1 L551.8 615.0 L554.8 614.9 L557.7 614.9 L560.7 614.9 L563.7 615.0 L566.6 615.2 L569.6 615.3 L572.5 615.6 L575.4 615.9 L578.4 616.2 L581.3 616.6 L584.2 617.1 L587.2 617.6 L590.1 618.1 L593.0 618.7 L595.9 619.4 L598.8 620.1 L601.6 620.8 L604.5 621.6 L607.4 622.5 L610.2 623.4 L613.1 624.3 L615.9 625.2 L618.8 626.2 L621.6 627.3 L624.4 628.4 L627.2 629.5 L630.0 630.6 L632.8 631.8 L635.5 633.0 L638.3 634.3 L641.1 635.5 L643.8 636.8 L646.5 638.2 L649.2 639.5 L651.9 640.9 L654.6 642.3 L657.3 643.7 L660.0 645.2 L662.6 646.7 L665.3 648.2 L667.9 649.7 L670.5 651.2 L673.1 652.8 L675.7 654.3 L678.3 655.9 L680.8 657.5 L683.4 659.1 L685.9 660.8 L688.5 662.4 L691.0 664.1 L693.5 665.7 L696.0 667.4 L698.4 669.1 L700.9 670.8 L703.4 672.6 L705.8 674.3 L708.2 676.0 L710.7 677.8 L713.1 679.6 L715.5 681.4 L717.9 683.2 L720.3 685.0 L722.7 686.8 L725.0 688.6 L727.4 690.5 L729.7 692.3 L732.1 694.2 L734.4 696.0 L736.8 697.9 L739.1 699.8 L741.4 701.7 L743.7 703.6 L746.0 705.5 L748.3 707.4 L750.6 709.4 L752.9 711.3 L755.2 713.2 L757.5 715.2 L759.8 717.1 L762.0 719.1 L764.3 721.0 L766.5 723.0 L768.8 725.0 L771.1 726.9 L773.3 728.9 L775.6 730.9 L777.8 732.9 L780.0 734.9 L782.3 736.9 L784.5 738.9 L786.8 740.9 L789.0 742.9 L791.2 744.9 L793.5 746.9 L795.7 748.9 L797.9 750.9 L800.1 752.9 L802.4 754.9 L804.6 756.9 L806.8 758.9 L809.1 760.9 L811.3 762.9 L813.5 764.9 L815.8 766.9 L818.0 768.9 L820.2 770.9 L822.5 772.9 L824.7 774.9 L826.9 776.9 L829.2 778.9 L831.4 780.9 L833.6 782.9 L835.9 784.9 L838.1 786.9 L840.4 788.8 L842.6 790.8 L844.9 792.8 L847.1 794.8 L849.4 796.8 L851.6 798.7 L853.9 800.7 L856.2 802.7 L858.4 804.6 L860.7 806.6 L863.0 808.5 L865.3 810.5 L867.5 812.4 L869.8 814.3 L872.1 816.3 L874.4 818.2 L876.7 820.1 L879.0 822.0 L881.3 824.0 L883.6 825.9 L885.9 827.8 L888.2 829.7 L890.5 831.6 L892.9 833.4 L895.2 835.3 L897.5 837.2 L899.9 839.1 L902.2 840.9 L904.6 842.8 L906.9 844.6 L909.3 846.5 L911.6 848.3 L914.0 850.1 L916.4 851.9 L918.8 853.7 L921.2 855.5 L923.6 857.3 L926.0 859.1 L928.4 860.9 L930.8 862.6 L933.2 864.4 L935.6 866.2 L938.1 867.9 L940.5 869.6 L943.0 871.3 L945.4 873.1 L947.9 874.8 L950.3 876.4 L952.8 878.1 L955.3 879.8 L957.8 881.4 L960.3 883.1 L962.8 884.7 L965.3 886.3 L967.9 888.0 L970.4 889.5 L972.9 891.1 L975.5 892.7 L978.0 894.3 L980.6 895.8 L983.2 897.3 L985.8 898.8 L988.3 900.3 L991.0 901.8 L993.6 903.3 L996.2 904.7 L998.8 906.2 L1001.4 907.6 L1004.1 909.0 L1006.7 910.4 L1009.4 911.8 L1012.1 913.1 L1014.8 914.4 L1017.5 915.8 L1020.2 917.1 L1022.9 918.3 L1025.6 919.6 L1028.3 920.9 L1031.0 922.1 L1033.8 923.3 L1036.5 924.5 L1039.3 925.6 L1042.0 926.8 L1044.8 927.9 L1047.6 929.0 L1050.4 930.1 L1053.2 931.2 L1056.0 932.2 L1058.8 933.3 L1061.6 934.3 L1064.5 935.2 L1067.3 936.2 L1070.2 937.1 L1073.0 938.1 L1075.9 938.9 L1078.7 939.8 L1081.6 940.7 L1084.5 941.5 L1087.4 942.3 L1090.3 943.1 L1093.2 943.8 L1096.1 944.5 L1099.0 945.2 L1102.0 945.9 L1104.9 946.6 L1107.8 947.2 L1110.8 947.8 L1113.7 948.4 L1116.7 948.9 L1119.7 949.4 L1122.6 950.0 L1125.6 950.4 L1128.6 950.9 L1131.5 951.3 L1134.5 951.7 L1137.5 952.1 L1140.5 952.4 L1143.5 952.7 L1146.4 953.0 L1149.4 953.3 L1152.4 953.5 L1155.4 953.7 L1158.4 953.9 L1161.4 954.1 L1164.4 954.2 L1167.4 954.3 L1170.4 954.4 L1173.4 954.4 L1176.4 954.5 L1179.4 954.4 L1182.4 954.4 L1185.4 954.3 L1188.3 954.2 L1191.3 954.1 L1194.3 954.0 L1197.3 953.8 L1200.3 953.6 L1203.3 953.3 L1206.2 953.0 L1209.2 952.7 L1212.2 952.4 L1215.2 952.1 L1218.1 951.7 L1221.1 951.2 L1224.0 950.8 L1227.0 950.3 L1229.9 949.8 L1232.9 949.2 L1235.8 948.7 L1238.7 948.1 L1241.6 947.4 L1244.5 946.8 L1247.4 946.1 L1250.3 945.3 L1253.2 944.6 L1256.1 943.8 L1259.0 942.9 L1261.9 942.1 L1264.7 941.2 L1267.6 940.3 L1270.4 939.3 L1273.3 938.3 L1276.1 937.3 L1278.9 936.3 L1281.7 935.2 L1284.5 934.1 L1287.3 933.0 L1290.1 931.9 L1292.8 930.7 L1295.6 929.5 L1298.3 928.3 L1301.1 927.0 L1303.8 925.7 L1306.5 924.4 L1309.2 923.1 L1311.9 921.7 L1314.6 920.3 L1317.2 918.9 L1319.9 917.5 L1322.5 916.0 L1325.1 914.5 L1327.7 913.0 L1330.3 911.4 L1332.9 909.9 L1335.4 908.3 L1338.0 906.7 L1340.5 905.0 L1343.1 903.4 L1345.6 901.7 L1348.0 900.0 L1350.5 898.3 L1353.0 896.5 L1355.4 894.8 L1357.8 893.0 L1360.2 891.2 L1362.6 889.3 L1365.0 887.5 L1367.3 885.6 L1369.7 883.7 L1372.0 881.8 L1374.3 879.9 L1376.6 877.9 L1378.8 876.0 L1381.1 874.0 L1383.3 872.0 L1385.5 870.0 L1387.7 867.9 L1389.9 865.8" stroke="#9100FF" stroke-width="6.0" stroke-dasharray="34.5 21.5" stroke-dashoffset="54.7"/>
<path d="M219.4 773.6 L222.0 772.1 L224.6 770.6 L227.2 769.2 L229.8 767.8 L232.5 766.3 L235.1 764.9 L237.8 763.6 L240.4 762.2 L243.1 760.8 L245.8 759.5 L248.5 758.2 L251.1 756.9 L253.8 755.6 L256.5 754.3 L259.2 753.0 L261.9 751.7 L264.6 750.5 L267.4 749.2 L270.1 748.0 L272.8 746.8 L275.5 745.6 L278.3 744.4 L281.0 743.2 L283.8 742.0 L286.5 740.9 L289.3 739.7 L292.0 738.5 L294.8 737.4 L297.6 736.2 L300.3 735.1 L303.1 734.0 L305.9 732.8 L308.7 731.7 L311.4 730.6 L314.2 729.5 L317.0 728.4 L319.8 727.3 L322.6 726.2 L325.4 725.1 L328.2 724.0 L331.0 722.9 L333.8 721.8 L336.6 720.8 L339.4 719.7 L342.2 718.6 L345.0 717.5 L347.9 716.5 L350.7 715.4 L353.5 714.4 L356.3 713.4 L359.2 712.4 L362.0 711.3 L364.8 710.3 L367.7 709.4 L370.5 708.4 L373.4 707.4 L376.2 706.5 L379.1 705.5 L381.9 704.6 L384.8 703.7 L387.6 702.8 L390.5 702.0 L393.4 701.1 L396.3 700.3 L399.1 699.5 L402.0 698.7 L404.9 697.9 L407.8 697.2 L410.7 696.4 L413.6 695.7 L416.5 695.1 L419.4 694.4 L422.3 693.8 L425.3 693.2 L428.2 692.6 L431.1 692.0 L434.0 691.5 L437.0 691.0 L439.9 690.5 L442.9 690.0 L445.8 689.6 L448.8 689.2 L451.7 688.8 L454.7 688.4 L457.7 688.1 L460.6 687.8 L463.6 687.5 L466.6 687.2 L469.6 687.0 L472.5 686.8 L475.5 686.6 L478.5 686.4 L481.5 686.3 L484.5 686.1 L487.5 686.0 L490.5 685.9 L493.4 685.9 L496.4 685.8 L499.4 685.8 L502.4 685.8 L505.4 685.8 L508.4 685.8 L511.4 685.9 L514.4 685.9 L517.4 686.0 L520.4 686.2 L523.4 686.3 L526.4 686.4 L529.4 686.6 L532.4 686.8 L535.4 687.0 L538.3 687.2 L541.3 687.5 L544.3 687.7 L547.3 688.0 L550.3 688.3 L553.3 688.6 L556.2 688.9 L559.2 689.3 L562.2 689.6 L565.2 690.0 L568.1 690.4 L571.1 690.8 L574.1 691.2 L577.0 691.6 L580.0 692.1 L582.9 692.5 L585.9 693.0 L588.8 693.5 L591.8 694.0 L594.7 694.5 L597.7 695.0 L600.6 695.6 L603.5 696.1 L606.5 696.6 L609.4 697.2 L612.3 697.8 L615.3 698.4 L618.2 699.0 L621.1 699.6 L624.0 700.2 L627.0 700.8 L629.9 701.4 L632.8 702.1 L635.7 702.7 L638.6 703.4 L641.5 704.0 L644.4 704.7 L647.3 705.4 L650.2 706.1 L653.1 706.8 L656.0 707.5 L658.9 708.3 L661.8 709.0 L664.7 709.7 L667.6 710.5 L670.5 711.3 L673.4 712.0 L676.3 712.8 L679.2 713.6 L682.1 714.4 L684.9 715.2 L687.8 716.0 L690.7 716.8 L693.6 717.6 L696.5 718.5 L699.3 719.3 L702.2 720.2 L705.1 721.0 L707.9 721.9 L710.8 722.8 L713.7 723.6 L716.5 724.5 L719.4 725.4 L722.3 726.3 L725.1 727.2 L728.0 728.1 L730.8 729.0 L733.7 729.9 L736.5 730.9 L739.4 731.8 L742.2 732.7 L745.1 733.7 L747.9 734.6 L750.8 735.5 L753.6 736.5 L756.4 737.5 L759.3 738.4 L762.1 739.4 L764.9 740.3 L767.8 741.3 L770.6 742.3 L773.4 743.3 L776.3 744.2 L779.1 745.2 L781.9 746.2 L784.7 747.2 L787.5 748.2 L790.4 749.2 L793.2 750.2 L796.0 751.2 L798.8 752.2 L801.6 753.2 L804.4 754.3 L807.2 755.3 L810.0 756.3 L812.8 757.3 L815.6 758.4 L818.4 759.4 L821.2 760.5 L824.0 761.5 L826.8 762.6 L829.6 763.6 L832.4 764.7 L835.2 765.8 L838.0 766.9 L840.8 767.9 L843.6 769.0 L846.3 770.1 L849.1 771.2 L851.9 772.3 L854.7 773.4 L857.5 774.6 L860.3 775.7 L863.0 776.8 L865.8 777.9 L868.6 779.1 L871.4 780.2 L874.2 781.3 L876.9 782.5 L879.7 783.6 L882.5 784.8 L885.3 785.9 L888.1 787.0 L890.9 788.2 L893.6 789.3 L896.4 790.4 L899.2 791.6 L902.0 792.7 L904.8 793.8 L907.6 795.0 L910.4 796.1 L913.1 797.2 L915.9 798.3 L918.7 799.4 L921.5 800.5 L924.3 801.6 L927.1 802.7 L929.9 803.8 L932.7 804.8 L935.5 805.9 L938.4 806.9 L941.2 808.0 L944.0 809.0 L946.8 810.0 L949.6 811.0 L952.4 812.0 L955.3 813.0 L958.1 813.9 L960.9 814.9 L963.8 815.8 L966.6 816.8 L969.5 817.7 L972.3 818.6 L975.2 819.5 L978.1 820.3 L980.9 821.2 L983.8 822.0 L986.7 822.8 L989.5 823.6 L992.4 824.4 L995.3 825.1 L998.2 825.8 L1001.1 826.6 L1004.0 827.2 L1006.9 827.9 L1009.8 828.6 L1012.8 829.2 L1015.7 829.8 L1018.6 830.4 L1021.6 831.0 L1024.5 831.5 L1027.4 832.1 L1030.4 832.6 L1033.3 833.1 L1036.3 833.5 L1039.2 834.0 L1042.2 834.4 L1045.2 834.8 L1048.1 835.2 L1051.1 835.6 L1054.1 836.0 L1057.1 836.3 L1060.0 836.6 L1063.0 836.9 L1066.0 837.2 L1069.0 837.4 L1072.0 837.7 L1075.0 837.9 L1077.9 838.1 L1080.9 838.3 L1083.9 838.4 L1086.9 838.6 L1089.9 838.7 L1092.9 838.8 L1095.9 838.9 L1098.9 839.0 L1101.9 839.0 L1104.9 839.0 L1107.9 839.0 L1110.9 839.0 L1113.9 839.0 L1116.9 839.0 L1119.9 838.9 L1122.9 838.8 L1125.9 838.7 L1128.9 838.6 L1131.9 838.5 L1134.9 838.3 L1137.9 838.1 L1140.9 837.9 L1143.9 837.7 L1146.9 837.5 L1149.9 837.2 L1152.9 837.0 L1155.9 836.7 L1158.8 836.4 L1161.8 836.1 L1164.8 835.7 L1167.8 835.4 L1170.8 835.0 L1173.7 834.6 L1176.7 834.2 L1179.7 833.8 L1182.6 833.3 L1185.6 832.9 L1188.6 832.4 L1191.5 831.9 L1194.5 831.4 L1197.4 830.9 L1200.4 830.3 L1203.3 829.8 L1206.2 829.2 L1209.2 828.6 L1212.1 828.0 L1215.0 827.3 L1218.0 826.7 L1220.9 826.0 L1223.8 825.3 L1226.7 824.6 L1229.6 823.9 L1232.5 823.2 L1235.4 822.5 L1238.3 821.7 L1241.2 821.0 L1244.1 820.2 L1247.0 819.4 L1249.9 818.7 L1252.8 817.9 L1255.6 817.0 L1258.5 816.2 L1261.4 815.4 L1264.3 814.6 L1267.1 813.7 L1270.0 812.8 L1272.9 812.0 L1275.8 811.1 L1278.6 810.2 L1281.5 809.4 L1284.3 808.5 L1287.2 807.6 L1290.1 806.7 L1292.9 805.8 L1295.8 804.8 L1298.6 803.9 L1301.5 803.0 L1304.3 802.1 L1307.2 801.2 L1310.0 800.2 L1312.9 799.3 L1315.7 798.4 L1318.6 797.4 L1321.4 796.5 L1324.3 795.6 L1327.1 794.6 L1330.0 793.7 L1332.8 792.8 L1335.7 791.8 L1338.5 790.9 L1341.4 790.0 L1344.2 789.0 L1347.1 788.1 L1349.9 787.2 L1352.8 786.3 L1355.6 785.4 L1358.5 784.5 L1361.3 783.5 L1364.2 782.6 L1367.0 781.8 L1369.9 780.9 L1372.8 780.0 L1375.6 779.1 L1378.5 778.2 L1381.3 777.4 L1384.2 776.5 L1387.1 775.7 L1389.9 774.8" stroke="#F20000" stroke-width="6.5"/>
<path d="M230.0 766.7 L232.8 765.9 L235.7 765.1 L238.5 764.2 L241.4 763.3 L244.2 762.5 L247.1 761.6 L249.9 760.8 L252.8 759.9 L255.7 759.0 L258.5 758.1 L261.4 757.3 L264.2 756.4 L267.1 755.5 L270.0 754.6 L272.8 753.8 L275.7 752.9 L278.6 752.0 L281.4 751.1 L284.3 750.3 L287.2 749.4 L290.1 748.5 L292.9 747.7 L295.8 746.8 L298.7 745.9 L301.6 745.1 L304.5 744.2 L307.3 743.4 L310.2 742.5 L313.1 741.7 L316.0 740.8 L318.9 740.0 L321.8 739.2 L324.7 738.4 L327.6 737.5 L330.5 736.7 L333.4 735.9 L336.3 735.1 L339.2 734.4 L342.1 733.6 L345.0 732.8 L347.9 732.0 L350.8 731.3 L353.7 730.5 L356.6 729.8 L359.5 729.1 L362.4 728.4 L365.3 727.7 L368.3 727.0 L371.2 726.3 L374.1 725.6 L377.0 725.0 L379.9 724.3 L382.9 723.7 L385.8 723.1 L388.7 722.5 L391.6 721.9 L394.6 721.3 L397.5 720.7 L400.4 720.2 L403.4 719.6 L406.3 719.1 L409.3 718.6 L412.2 718.1 L415.2 717.7 L418.1 717.2 L421.1 716.8 L424.0 716.4 L427.0 716.0 L429.9 715.6 L432.9 715.2 L435.8 714.9 L438.8 714.5 L441.7 714.2 L444.7 713.9 L447.7 713.7 L450.6 713.4 L453.6 713.2 L456.6 713.0 L459.6 712.8 L462.5 712.6 L465.5 712.4 L468.5 712.3 L471.5 712.1 L474.4 712.0 L477.4 711.9 L480.4 711.8 L483.4 711.7 L486.4 711.7 L489.4 711.6 L492.3 711.6 L495.3 711.6 L498.3 711.6 L501.3 711.6 L504.3 711.6 L507.3 711.6 L510.3 711.7 L513.3 711.8 L516.3 711.8 L519.3 711.9 L522.3 712.0 L525.3 712.1 L528.3 712.2 L531.3 712.4 L534.3 712.5 L537.3 712.6 L540.2 712.8 L543.2 713.0 L546.2 713.1 L549.2 713.3 L552.2 713.5 L555.2 713.7 L558.2 713.9 L561.2 714.1 L564.2 714.3 L567.2 714.6 L570.2 714.8 L573.2 715.1 L576.2 715.3 L579.2 715.6 L582.2 715.8 L585.2 716.1 L588.2 716.4 L591.2 716.6 L594.2 716.9 L597.2 717.2 L600.2 717.5 L603.2 717.8 L606.2 718.1 L609.2 718.4 L612.1 718.7 L615.1 719.0 L618.1 719.3 L621.1 719.6 L624.1 720.0 L627.1 720.3 L630.1 720.6 L633.1 721.0 L636.0 721.3 L639.0 721.6 L642.0 722.0 L645.0 722.3 L648.0 722.7 L651.0 723.0 L653.9 723.4 L656.9 723.8 L659.9 724.1 L662.9 724.5 L665.9 724.9 L668.8 725.3 L671.8 725.6 L674.8 726.0 L677.8 726.4 L680.8 726.8 L683.7 727.2 L686.7 727.6 L689.7 728.0 L692.7 728.4 L695.6 728.8 L698.6 729.2 L701.6 729.6 L704.5 730.0 L707.5 730.4 L710.5 730.8 L713.5 731.2 L716.4 731.7 L719.4 732.1 L722.4 732.5 L725.3 732.9 L728.3 733.4 L731.3 733.8 L734.2 734.3 L737.2 734.7 L740.1 735.1 L743.1 735.6 L746.1 736.0 L749.0 736.5 L752.0 737.0 L754.9 737.4 L757.9 737.9 L760.9 738.4 L763.8 738.9 L766.8 739.3 L769.7 739.8 L772.7 740.3 L775.6 740.8 L778.6 741.3 L781.5 741.8 L784.5 742.4 L787.4 742.9 L790.4 743.4 L793.3 743.9 L796.3 744.5 L799.2 745.0 L802.1 745.5 L805.1 746.1 L808.0 746.7 L810.9 747.2 L813.9 747.8 L816.8 748.4 L819.8 749.0 L822.7 749.5 L825.6 750.1 L828.5 750.7 L831.5 751.4 L834.4 752.0 L837.3 752.6 L840.2 753.2 L843.2 753.9 L846.1 754.5 L849.0 755.2 L851.9 755.8 L854.8 756.5 L857.7 757.2 L860.7 757.8 L863.6 758.5 L866.5 759.2 L869.4 759.9 L872.3 760.7 L875.2 761.4 L878.1 762.1 L881.0 762.8 L883.9 763.6 L886.8 764.3 L889.7 765.1 L892.6 765.8 L895.5 766.6 L898.4 767.4 L901.3 768.1 L904.2 768.9 L907.1 769.7 L910.0 770.5 L912.9 771.3 L915.7 772.1 L918.6 772.9 L921.5 773.7 L924.4 774.5 L927.3 775.3 L930.2 776.1 L933.1 776.9 L936.0 777.7 L938.9 778.5 L941.8 779.3 L944.7 780.1 L947.5 780.9 L950.4 781.7 L953.3 782.5 L956.2 783.3 L959.1 784.1 L962.0 784.9 L964.9 785.7 L967.8 786.4 L970.7 787.2 L973.6 788.0 L976.5 788.8 L979.4 789.6 L982.3 790.3 L985.2 791.1 L988.1 791.9 L991.1 792.6 L994.0 793.4 L996.9 794.1 L999.8 794.8 L1002.7 795.6 L1005.6 796.3 L1008.6 797.0 L1011.5 797.7 L1014.4 798.4 L1017.3 799.1 L1020.3 799.8 L1023.2 800.5 L1026.1 801.1 L1029.1 801.8 L1032.0 802.4 L1034.9 803.1 L1037.9 803.7 L1040.8 804.3 L1043.8 804.9 L1046.7 805.5 L1049.7 806.1 L1052.6 806.7 L1055.6 807.3 L1058.5 807.9 L1061.5 808.4 L1064.4 808.9 L1067.4 809.5 L1070.3 810.0 L1073.3 810.5 L1076.3 811.0 L1079.2 811.5 L1082.2 812.0 L1085.2 812.4 L1088.1 812.9 L1091.1 813.3 L1094.1 813.8 L1097.0 814.2 L1100.0 814.6 L1103.0 815.0 L1105.9 815.3 L1108.9 815.7 L1111.9 816.1 L1114.9 816.4 L1117.8 816.7 L1120.8 817.0 L1123.8 817.3 L1126.8 817.6 L1129.7 817.9 L1132.7 818.2 L1135.7 818.4 L1138.7 818.6 L1141.7 818.8 L1144.6 819.0 L1147.6 819.2 L1150.6 819.4 L1153.6 819.6 L1156.5 819.7 L1159.5 819.8 L1162.5 819.9 L1165.5 820.0 L1168.5 820.1 L1171.4 820.2 L1174.4 820.2 L1177.4 820.2 L1180.4 820.3 L1183.3 820.2 L1186.3 820.2 L1189.3 820.2 L1192.3 820.1 L1195.3 820.1 L1198.2 820.0 L1201.2 819.9 L1204.2 819.7 L1207.1 819.6 L1210.1 819.4 L1213.1 819.3 L1216.1 819.1 L1219.0 818.8 L1222.0 818.6 L1225.0 818.3 L1227.9 818.1 L1230.9 817.8 L1233.9 817.5 L1236.8 817.1 L1239.8 816.8 L1242.8 816.4 L1245.7 816.0 L1248.7 815.6 L1251.6 815.2 L1254.6 814.7 L1257.5 814.3 L1260.5 813.8 L1263.4 813.3 L1266.4 812.7 L1269.3 812.2 L1272.3 811.6 L1275.2 811.0 L1278.2 810.4 L1281.1 809.8 L1284.0 809.1 L1287.0 808.5 L1289.9 807.8 L1292.8 807.1 L1295.8 806.4 L1298.7 805.7 L1301.6 804.9 L1304.5 804.1 L1307.4 803.4 L1310.4 802.6 L1313.3 801.7 L1316.2 800.9 L1319.1 800.1 L1322.0 799.2 L1324.9 798.3 L1327.7 797.4 L1330.6 796.5 L1333.5 795.6 L1336.4 794.7 L1339.3 793.7 L1342.1 792.8 L1345.0 791.8 L1347.8 790.8 L1350.7 789.8 L1353.5 788.8 L1356.4 787.8 L1359.2 786.7 L1362.1 785.7 L1364.9 784.6 L1367.7 783.5 L1370.5 782.4 L1373.4 781.3 L1376.2 780.2 L1379.0 779.1 L1381.8 778.0 L1384.5 776.8 L1387.3 775.7 L1390.1 774.5" stroke="#F20000" stroke-width="6.5" stroke-dasharray="34.5 21.5" stroke-dashoffset="7.6"/>
<path d="M219.9 831.4 L222.9 831.0 L225.9 830.6 L228.8 830.3 L231.8 829.9 L234.8 829.5 L237.8 829.2 L240.7 828.8 L243.7 828.4 L246.7 828.1 L249.7 827.7 L252.6 827.3 L255.6 826.9 L258.6 826.6 L261.6 826.2 L264.5 825.8 L267.5 825.5 L270.5 825.1 L273.5 824.8 L276.4 824.4 L279.4 824.1 L282.4 823.7 L285.4 823.4 L288.3 823.0 L291.3 822.7 L294.3 822.3 L297.3 822.0 L300.3 821.7 L303.2 821.3 L306.2 821.0 L309.2 820.7 L312.2 820.4 L315.2 820.1 L318.2 819.8 L321.1 819.5 L324.1 819.2 L327.1 818.9 L330.1 818.6 L333.1 818.3 L336.1 818.1 L339.0 817.8 L342.0 817.6 L345.0 817.3 L348.0 817.1 L351.0 816.9 L354.0 816.6 L356.9 816.4 L359.9 816.2 L362.9 816.0 L365.9 815.8 L368.9 815.7 L371.9 815.5 L374.9 815.3 L377.9 815.2 L380.8 815.0 L383.8 814.9 L386.8 814.8 L389.8 814.7 L392.8 814.6 L395.8 814.5 L398.8 814.4 L401.7 814.4 L404.7 814.3 L407.7 814.3 L410.7 814.2 L413.7 814.2 L416.7 814.2 L419.7 814.2 L422.7 814.2 L425.7 814.3 L428.6 814.3 L431.6 814.3 L434.6 814.4 L437.6 814.5 L440.6 814.5 L443.6 814.6 L446.6 814.7 L449.6 814.8 L452.6 814.9 L455.5 815.0 L458.5 815.1 L461.5 815.3 L464.5 815.4 L467.5 815.5 L470.5 815.7 L473.5 815.8 L476.5 816.0 L479.5 816.1 L482.5 816.3 L485.4 816.4 L488.4 816.6 L491.4 816.8 L494.4 816.9 L497.4 817.1 L500.4 817.3 L503.4 817.4 L506.4 817.6 L509.4 817.8 L512.4 818.0 L515.3 818.1 L518.3 818.3 L521.3 818.5 L524.3 818.6 L527.3 818.8 L530.3 819.0 L533.3 819.1 L536.3 819.3 L539.3 819.4 L542.3 819.6 L545.2 819.7 L548.2 819.9 L551.2 820.0 L554.2 820.2 L557.2 820.3 L560.2 820.4 L563.2 820.6 L566.2 820.7 L569.2 820.8 L572.2 821.0 L575.1 821.1 L578.1 821.2 L581.1 821.3 L584.1 821.5 L587.1 821.6 L590.1 821.7 L593.1 821.8 L596.1 821.9 L599.1 822.1 L602.1 822.2 L605.1 822.3 L608.0 822.4 L611.0 822.5 L614.0 822.6 L617.0 822.8 L620.0 822.9 L623.0 823.0 L626.0 823.1 L629.0 823.2 L632.0 823.3 L634.9 823.4 L637.9 823.5 L640.9 823.7 L643.9 823.8 L646.9 823.9 L649.9 824.0 L652.9 824.1 L655.9 824.2 L658.9 824.3 L661.9 824.5 L664.8 824.6 L667.8 824.7 L670.8 824.8 L673.8 824.9 L676.8 825.1 L679.8 825.2 L682.8 825.3 L685.8 825.4 L688.7 825.6 L691.7 825.7 L694.7 825.8 L697.7 826.0 L700.7 826.1 L703.7 826.2 L706.7 826.4 L709.7 826.5 L712.7 826.6 L715.6 826.8 L718.6 826.9 L721.6 827.1 L724.6 827.2 L727.6 827.4 L730.6 827.6 L733.6 827.7 L736.5 827.9 L739.5 828.0 L742.5 828.2 L745.5 828.4 L748.5 828.6 L751.5 828.7 L754.5 828.9 L757.5 829.1 L760.4 829.3 L763.4 829.5 L766.4 829.7 L769.4 829.9 L772.4 830.1 L775.4 830.3 L778.4 830.5 L781.3 830.7 L784.3 831.0 L787.3 831.2 L790.3 831.4 L793.3 831.6 L796.3 831.9 L799.2 832.1 L802.2 832.4 L805.2 832.6 L808.2 832.9 L811.2 833.1 L814.2 833.4 L817.1 833.7 L820.1 833.9 L823.1 834.2 L826.1 834.5 L829.1 834.7 L832.1 835.0 L835.0 835.3 L838.0 835.6 L841.0 835.9 L844.0 836.2 L847.0 836.4 L850.0 836.7 L852.9 837.0 L855.9 837.3 L858.9 837.6 L861.9 837.9 L864.9 838.2 L867.9 838.5 L870.8 838.8 L873.8 839.1 L876.8 839.4 L879.8 839.7 L882.8 840.0 L885.8 840.3 L888.7 840.6 L891.7 840.9 L894.7 841.2 L897.7 841.5 L900.7 841.9 L903.6 842.2 L906.6 842.5 L909.6 842.8 L912.6 843.1 L915.6 843.4 L918.6 843.7 L921.5 844.0 L924.5 844.3 L927.5 844.6 L930.5 844.9 L933.5 845.1 L936.4 845.4 L939.4 845.7 L942.4 846.0 L945.4 846.3 L948.4 846.6 L951.4 846.9 L954.3 847.1 L957.3 847.4 L960.3 847.7 L963.3 848.0 L966.3 848.2 L969.2 848.5 L972.2 848.8 L975.2 849.0 L978.2 849.3 L981.2 849.5 L984.2 849.8 L987.1 850.0 L990.1 850.3 L993.1 850.5 L996.1 850.7 L999.1 850.9 L1002.1 851.2 L1005.0 851.4 L1008.0 851.6 L1011.0 851.8 L1014.0 852.0 L1017.0 852.2 L1020.0 852.4 L1022.9 852.6 L1025.9 852.8 L1028.9 853.0 L1031.9 853.1 L1034.9 853.3 L1037.9 853.4 L1040.8 853.6 L1043.8 853.7 L1046.8 853.9 L1049.8 854.0 L1052.8 854.2 L1055.8 854.3 L1058.8 854.4 L1061.7 854.5 L1064.7 854.6 L1067.7 854.7 L1070.7 854.8 L1073.7 854.9 L1076.7 854.9 L1079.7 855.0 L1082.6 855.0 L1085.6 855.1 L1088.6 855.1 L1091.6 855.2 L1094.6 855.2 L1097.6 855.2 L1100.6 855.2 L1103.5 855.2 L1106.5 855.2 L1109.5 855.2 L1112.5 855.1 L1115.5 855.1 L1118.5 855.0 L1121.5 855.0 L1124.5 854.9 L1127.5 854.9 L1130.4 854.8 L1133.4 854.7 L1136.4 854.6 L1139.4 854.5 L1142.4 854.4 L1145.4 854.2 L1148.4 854.1 L1151.4 854.0 L1154.4 853.8 L1157.4 853.7 L1160.3 853.5 L1163.3 853.4 L1166.3 853.2 L1169.3 853.0 L1172.3 852.8 L1175.3 852.6 L1178.3 852.4 L1181.3 852.2 L1184.3 852.0 L1187.3 851.8 L1190.2 851.6 L1193.2 851.4 L1196.2 851.1 L1199.2 850.9 L1202.2 850.7 L1205.2 850.4 L1208.2 850.2 L1211.2 849.9 L1214.2 849.7 L1217.2 849.4 L1220.1 849.1 L1223.1 848.9 L1226.1 848.6 L1229.1 848.3 L1232.1 848.1 L1235.1 847.8 L1238.1 847.5 L1241.1 847.2 L1244.0 846.9 L1247.0 846.6 L1250.0 846.3 L1253.0 846.0 L1256.0 845.7 L1259.0 845.4 L1262.0 845.1 L1265.0 844.8 L1267.9 844.5 L1270.9 844.2 L1273.9 843.9 L1276.9 843.5 L1279.9 843.2 L1282.9 842.9 L1285.8 842.6 L1288.8 842.3 L1291.8 842.0 L1294.8 841.6 L1297.8 841.3 L1300.8 841.0 L1303.7 840.7 L1306.7 840.4 L1309.7 840.1 L1312.7 839.7 L1315.6 839.4 L1318.6 839.1 L1321.6 838.8 L1324.6 838.5 L1327.6 838.2 L1330.5 837.9 L1333.5 837.5 L1336.5 837.2 L1339.5 836.9 L1342.4 836.6 L1345.4 836.3 L1348.4 836.0 L1351.4 835.7 L1354.3 835.4 L1357.3 835.1 L1360.3 834.8 L1363.2 834.6 L1366.2 834.3 L1369.2 834.0 L1372.1 833.7 L1375.1 833.4 L1378.1 833.2 L1381.0 832.9 L1384.0 832.6 L1387.0 832.4 L1389.9 832.1" stroke="#00AB4E" stroke-width="6.5"/>
<path d="M222.0 831.8 L225.0 831.5 L228.0 831.1 L230.9 830.7 L233.9 830.4 L236.9 830.0 L239.8 829.6 L242.8 829.3 L245.8 828.9 L248.7 828.5 L251.7 828.1 L254.7 827.8 L257.7 827.4 L260.6 827.0 L263.6 826.6 L266.6 826.3 L269.6 825.9 L272.5 825.5 L275.5 825.2 L278.5 824.8 L281.5 824.5 L284.5 824.1 L287.4 823.8 L290.4 823.4 L293.4 823.1 L296.4 822.7 L299.4 822.4 L302.4 822.1 L305.3 821.7 L308.3 821.4 L311.3 821.1 L314.3 820.8 L317.3 820.5 L320.3 820.2 L323.2 819.9 L326.2 819.7 L329.2 819.4 L332.2 819.1 L335.2 818.9 L338.2 818.6 L341.2 818.4 L344.2 818.2 L347.2 817.9 L350.1 817.7 L353.1 817.5 L356.1 817.3 L359.1 817.2 L362.1 817.0 L365.1 816.8 L368.1 816.7 L371.1 816.5 L374.1 816.4 L377.0 816.3 L380.0 816.2 L383.0 816.1 L386.0 816.0 L389.0 816.0 L392.0 815.9 L395.0 815.9 L398.0 815.9 L401.0 815.8 L404.0 815.8 L406.9 815.8 L409.9 815.9 L412.9 815.9 L415.9 815.9 L418.9 816.0 L421.9 816.0 L424.9 816.1 L427.9 816.2 L430.9 816.2 L433.9 816.3 L436.8 816.4 L439.8 816.6 L442.8 816.7 L445.8 816.8 L448.8 816.9 L451.8 817.1 L454.8 817.2 L457.8 817.4 L460.7 817.6 L463.7 817.7 L466.7 817.9 L469.7 818.1 L472.7 818.3 L475.7 818.5 L478.7 818.7 L481.7 818.9 L484.6 819.1 L487.6 819.3 L490.6 819.6 L493.6 819.8 L496.6 820.0 L499.6 820.3 L502.6 820.5 L505.6 820.8 L508.5 821.0 L511.5 821.3 L514.5 821.5 L517.5 821.8 L520.5 822.0 L523.5 822.3 L526.4 822.6 L529.4 822.8 L532.4 823.1 L535.4 823.3 L538.4 823.6 L541.4 823.8 L544.4 824.1 L547.3 824.3 L550.3 824.6 L553.3 824.8 L556.3 825.0 L559.3 825.2 L562.3 825.5 L565.3 825.7 L568.3 825.9 L571.2 826.1 L574.2 826.3 L577.2 826.5 L580.2 826.7 L583.2 826.8 L586.2 827.0 L589.2 827.2 L592.2 827.4 L595.1 827.5 L598.1 827.7 L601.1 827.8 L604.1 828.0 L607.1 828.1 L610.1 828.3 L613.1 828.4 L616.1 828.6 L619.1 828.7 L622.0 828.8 L625.0 828.9 L628.0 829.1 L631.0 829.2 L634.0 829.3 L637.0 829.4 L640.0 829.5 L643.0 829.6 L646.0 829.7 L649.0 829.8 L652.0 829.9 L654.9 830.0 L657.9 830.1 L660.9 830.2 L663.9 830.2 L666.9 830.3 L669.9 830.4 L672.9 830.5 L675.9 830.5 L678.9 830.6 L681.9 830.7 L684.9 830.7 L687.9 830.8 L690.9 830.8 L693.8 830.9 L696.8 830.9 L699.8 831.0 L702.8 831.0 L705.8 831.1 L708.8 831.1 L711.8 831.2 L714.8 831.2 L717.8 831.2 L720.8 831.3 L723.8 831.3 L726.8 831.3 L729.8 831.3 L732.8 831.4 L735.7 831.4 L738.7 831.4 L741.7 831.4 L744.7 831.5 L747.7 831.5 L750.7 831.5 L753.7 831.5 L756.7 831.5 L759.7 831.5 L762.7 831.5 L765.7 831.5 L768.7 831.6 L771.7 831.6 L774.7 831.6 L777.7 831.6 L780.7 831.6 L783.7 831.6 L786.6 831.6 L789.6 831.6 L792.6 831.6 L795.6 831.6 L798.6 831.6 L801.6 831.6 L804.6 831.6 L807.6 831.6 L810.6 831.6 L813.6 831.6 L816.6 831.6 L819.6 831.6 L822.6 831.6 L825.6 831.6 L828.6 831.6 L831.6 831.6 L834.6 831.6 L837.5 831.6 L840.5 831.6 L843.5 831.6 L846.5 831.6 L849.5 831.6 L852.5 831.6 L855.5 831.7 L858.5 831.7 L861.5 831.7 L864.5 831.7 L867.5 831.7 L870.5 831.8 L873.5 831.8 L876.5 831.8 L879.5 831.9 L882.4 831.9 L885.4 831.9 L888.4 832.0 L891.4 832.1 L894.4 832.1 L897.4 832.2 L900.4 832.2 L903.4 832.3 L906.4 832.4 L909.4 832.5 L912.4 832.6 L915.4 832.7 L918.3 832.8 L921.3 832.9 L924.3 833.0 L927.3 833.1 L930.3 833.3 L933.3 833.4 L936.3 833.5 L939.3 833.7 L942.3 833.9 L945.2 834.0 L948.2 834.2 L951.2 834.4 L954.2 834.6 L957.2 834.8 L960.2 835.0 L963.2 835.2 L966.2 835.4 L969.1 835.7 L972.1 835.9 L975.1 836.2 L978.1 836.4 L981.1 836.7 L984.1 837.0 L987.1 837.2 L990.0 837.5 L993.0 837.8 L996.0 838.1 L999.0 838.3 L1002.0 838.6 L1005.0 838.9 L1008.0 839.2 L1010.9 839.5 L1013.9 839.8 L1016.9 840.1 L1019.9 840.4 L1022.9 840.7 L1025.9 841.0 L1028.8 841.3 L1031.8 841.6 L1034.8 841.9 L1037.8 842.2 L1040.8 842.5 L1043.8 842.8 L1046.8 843.1 L1049.7 843.4 L1052.7 843.7 L1055.7 844.0 L1058.7 844.2 L1061.7 844.5 L1064.7 844.8 L1067.6 845.1 L1070.6 845.3 L1073.6 845.6 L1076.6 845.8 L1079.6 846.1 L1082.6 846.3 L1085.5 846.5 L1088.5 846.7 L1091.5 847.0 L1094.5 847.2 L1097.5 847.4 L1100.5 847.5 L1103.5 847.7 L1106.4 847.9 L1109.4 848.0 L1112.4 848.2 L1115.4 848.3 L1118.4 848.5 L1121.4 848.6 L1124.4 848.7 L1127.4 848.8 L1130.3 848.9 L1133.3 849.0 L1136.3 849.1 L1139.3 849.1 L1142.3 849.2 L1145.3 849.2 L1148.3 849.3 L1151.3 849.3 L1154.2 849.3 L1157.2 849.4 L1160.2 849.4 L1163.2 849.4 L1166.2 849.4 L1169.2 849.3 L1172.2 849.3 L1175.2 849.3 L1178.2 849.2 L1181.1 849.2 L1184.1 849.1 L1187.1 849.0 L1190.1 848.9 L1193.1 848.9 L1196.1 848.8 L1199.1 848.7 L1202.1 848.5 L1205.0 848.4 L1208.0 848.3 L1211.0 848.1 L1214.0 848.0 L1217.0 847.8 L1220.0 847.7 L1223.0 847.5 L1226.0 847.3 L1228.9 847.1 L1231.9 846.9 L1234.9 846.7 L1237.9 846.5 L1240.9 846.3 L1243.9 846.0 L1246.9 845.8 L1249.8 845.6 L1252.8 845.3 L1255.8 845.0 L1258.8 844.8 L1261.8 844.5 L1264.8 844.2 L1267.7 843.9 L1270.7 843.6 L1273.7 843.3 L1276.7 843.0 L1279.7 842.7 L1282.7 842.4 L1285.6 842.1 L1288.6 841.7 L1291.6 841.4 L1294.6 841.1 L1297.6 840.8 L1300.6 840.4 L1303.5 840.1 L1306.5 839.8 L1309.5 839.4 L1312.5 839.1 L1315.5 838.8 L1318.5 838.4 L1321.4 838.1 L1324.4 837.8 L1327.4 837.4 L1330.4 837.1 L1333.4 836.8 L1336.3 836.5 L1339.3 836.2 L1342.3 835.9 L1345.3 835.5 L1348.3 835.2 L1351.2 835.0 L1354.2 834.7 L1357.2 834.4 L1360.2 834.1 L1363.2 833.8 L1366.1 833.6 L1369.1 833.3 L1372.1 833.1 L1375.1 832.8 L1378.1 832.6 L1381.0 832.4 L1384.0 832.2 L1387.0 832.0 L1390.0 831.8" stroke="#00AB4E" stroke-width="6.5" stroke-dasharray="34.5 21.5" stroke-dashoffset="54.8"/>
<path d="M220.0 892.0 L223.0 891.8 L226.0 891.7 L229.0 891.6 L232.0 891.5 L235.0 891.4 L238.0 891.3 L241.0 891.1 L244.0 891.1 L247.0 891.0 L250.0 890.9 L253.0 890.8 L256.0 890.7 L259.0 890.6 L262.0 890.6 L265.0 890.5 L268.0 890.4 L271.0 890.4 L274.0 890.3 L277.0 890.3 L280.0 890.2 L283.0 890.1 L286.0 890.1 L288.9 890.0 L291.9 890.0 L294.9 889.9 L297.9 889.9 L300.9 889.9 L303.9 889.8 L306.9 889.8 L309.9 889.7 L312.9 889.7 L315.9 889.6 L318.9 889.6 L321.9 889.5 L324.9 889.5 L327.9 889.4 L330.9 889.3 L333.9 889.3 L336.9 889.2 L339.9 889.2 L342.9 889.1 L345.9 889.0 L348.9 888.9 L351.9 888.9 L354.9 888.8 L357.9 888.7 L360.9 888.6 L363.9 888.5 L366.9 888.4 L369.9 888.3 L372.8 888.2 L375.8 888.1 L378.8 887.9 L381.8 887.8 L384.8 887.7 L387.8 887.5 L390.8 887.4 L393.8 887.2 L396.8 887.0 L399.8 886.9 L402.8 886.7 L405.8 886.5 L408.8 886.3 L411.7 886.1 L414.7 885.9 L417.7 885.6 L420.7 885.4 L423.7 885.2 L426.7 884.9 L429.7 884.7 L432.7 884.5 L435.7 884.2 L438.7 883.9 L441.6 883.7 L444.6 883.4 L447.6 883.2 L450.6 882.9 L453.6 882.6 L456.6 882.3 L459.6 882.1 L462.6 881.8 L465.6 881.5 L468.5 881.2 L471.5 881.0 L474.5 880.7 L477.5 880.4 L480.5 880.1 L483.5 879.8 L486.5 879.6 L489.5 879.3 L492.5 879.0 L495.4 878.7 L498.4 878.5 L501.4 878.2 L504.4 877.9 L507.4 877.7 L510.4 877.4 L513.4 877.2 L516.4 876.9 L519.4 876.7 L522.4 876.5 L525.4 876.2 L528.4 876.0 L531.3 875.8 L534.3 875.6 L537.3 875.4 L540.3 875.2 L543.3 875.0 L546.3 874.8 L549.3 874.6 L552.3 874.5 L555.3 874.3 L558.3 874.2 L561.3 874.1 L564.3 873.9 L567.3 873.8 L570.3 873.7 L573.3 873.7 L576.3 873.6 L579.3 873.5 L582.3 873.5 L585.2 873.5 L588.2 873.5 L591.2 873.5 L594.2 873.5 L597.2 873.6 L600.2 873.6 L603.2 873.7 L606.2 873.8 L609.2 873.9 L612.1 874.1 L615.1 874.2 L618.1 874.4 L621.1 874.6 L624.1 874.8 L627.1 875.1 L630.0 875.3 L633.0 875.6 L636.0 876.0 L639.0 876.3 L641.9 876.6 L644.9 877.0 L647.9 877.4 L650.9 877.8 L653.8 878.2 L656.8 878.6 L659.8 879.1 L662.7 879.5 L665.7 880.0 L668.7 880.4 L671.6 880.9 L674.6 881.3 L677.6 881.8 L680.5 882.3 L683.5 882.8 L686.5 883.2 L689.4 883.7 L692.4 884.2 L695.4 884.6 L698.3 885.1 L701.3 885.6 L704.3 886.0 L707.2 886.4 L710.2 886.9 L713.2 887.3 L716.1 887.7 L719.1 888.1 L722.1 888.5 L725.1 888.8 L728.0 889.2 L731.0 889.6 L734.0 889.9 L737.0 890.2 L739.9 890.6 L742.9 890.9 L745.9 891.2 L748.9 891.5 L751.9 891.8 L754.8 892.0 L757.8 892.3 L760.8 892.6 L763.8 892.8 L766.8 893.1 L769.8 893.3 L772.7 893.5 L775.7 893.8 L778.7 894.0 L781.7 894.2 L784.7 894.4 L787.7 894.6 L790.7 894.8 L793.6 895.0 L796.6 895.1 L799.6 895.3 L802.6 895.5 L805.6 895.6 L808.6 895.8 L811.6 895.9 L814.6 896.1 L817.6 896.2 L820.5 896.3 L823.5 896.4 L826.5 896.6 L829.5 896.7 L832.5 896.8 L835.5 896.9 L838.5 897.0 L841.5 897.1 L844.5 897.2 L847.5 897.3 L850.5 897.3 L853.5 897.4 L856.5 897.5 L859.4 897.6 L862.4 897.6 L865.4 897.7 L868.4 897.8 L871.4 897.8 L874.4 897.9 L877.4 898.0 L880.4 898.0 L883.4 898.1 L886.4 898.1 L889.4 898.2 L892.4 898.2 L895.4 898.3 L898.4 898.3 L901.4 898.3 L904.4 898.4 L907.4 898.4 L910.4 898.5 L913.4 898.5 L916.4 898.6 L919.4 898.6 L922.4 898.6 L925.4 898.7 L928.4 898.7 L931.4 898.7 L934.4 898.8 L937.3 898.8 L940.3 898.8 L943.3 898.9 L946.3 898.9 L949.3 898.9 L952.3 898.9 L955.3 899.0 L958.3 899.0 L961.3 899.0 L964.3 899.0 L967.3 899.1 L970.3 899.1 L973.3 899.1 L976.3 899.1 L979.3 899.1 L982.3 899.2 L985.3 899.2 L988.3 899.2 L991.3 899.2 L994.3 899.2 L997.3 899.2 L1000.3 899.3 L1003.3 899.3 L1006.3 899.3 L1009.3 899.3 L1012.3 899.3 L1015.3 899.3 L1018.3 899.3 L1021.3 899.3 L1024.3 899.3 L1027.3 899.3 L1030.3 899.3 L1033.3 899.4 L1036.3 899.4 L1039.3 899.4 L1042.3 899.4 L1045.3 899.4 L1048.3 899.4 L1051.3 899.4 L1054.3 899.4 L1057.3 899.4 L1060.3 899.4 L1063.3 899.4 L1066.3 899.4 L1069.2 899.4 L1072.2 899.3 L1075.2 899.3 L1078.2 899.3 L1081.2 899.3 L1084.2 899.3 L1087.2 899.3 L1090.2 899.3 L1093.2 899.3 L1096.2 899.3 L1099.2 899.3 L1102.2 899.3 L1105.2 899.3 L1108.2 899.2 L1111.2 899.2 L1114.2 899.2 L1117.2 899.2 L1120.2 899.2 L1123.2 899.2 L1126.2 899.2 L1129.2 899.2 L1132.2 899.1 L1135.2 899.1 L1138.2 899.1 L1141.2 899.1 L1144.2 899.1 L1147.2 899.1 L1150.2 899.0 L1153.2 899.0 L1156.2 899.0 L1159.2 899.0 L1162.2 899.0 L1165.2 898.9 L1168.2 898.9 L1171.2 898.9 L1174.2 898.9 L1177.2 898.8 L1180.2 898.8 L1183.2 898.8 L1186.2 898.8 L1189.2 898.8 L1192.2 898.7 L1195.2 898.7 L1198.2 898.7 L1201.2 898.7 L1204.2 898.6 L1207.2 898.6 L1210.2 898.6 L1213.2 898.5 L1216.2 898.5 L1219.2 898.5 L1222.2 898.5 L1225.2 898.4 L1228.2 898.4 L1231.2 898.4 L1234.2 898.3 L1237.2 898.3 L1240.1 898.3 L1243.1 898.3 L1246.1 898.2 L1249.1 898.2 L1252.1 898.2 L1255.1 898.1 L1258.1 898.1 L1261.1 898.1 L1264.1 898.0 L1267.1 898.0 L1270.1 898.0 L1273.1 898.0 L1276.1 897.9 L1279.1 897.9 L1282.1 897.9 L1285.1 897.8 L1288.1 897.8 L1291.1 897.8 L1294.1 897.7 L1297.1 897.7 L1300.1 897.7 L1303.1 897.6 L1306.1 897.6 L1309.1 897.6 L1312.1 897.5 L1315.1 897.5 L1318.1 897.5 L1321.1 897.4 L1324.1 897.4 L1327.1 897.4 L1330.1 897.3 L1333.1 897.3 L1336.1 897.3 L1339.1 897.2 L1342.0 897.2 L1345.0 897.2 L1348.0 897.1 L1351.0 897.1 L1354.0 897.1 L1357.0 897.0 L1360.0 897.0 L1363.0 897.0 L1366.0 896.9 L1369.0 896.9 L1372.0 896.9 L1375.0 896.8 L1378.0 896.8 L1381.0 896.8 L1384.0 896.7 L1387.0 896.7 L1390.0 896.7" stroke="#000" stroke-width="6.5"/>
<path d="M220.0 892.2 L223.0 892.0 L226.0 891.7 L229.0 891.5 L232.0 891.3 L235.0 891.1 L237.9 890.9 L240.9 890.7 L243.9 890.5 L246.9 890.3 L249.9 890.1 L252.9 890.0 L255.9 889.8 L258.9 889.6 L261.9 889.5 L264.9 889.3 L267.8 889.2 L270.8 889.0 L273.8 888.9 L276.8 888.8 L279.8 888.6 L282.8 888.5 L285.8 888.4 L288.8 888.3 L291.8 888.2 L294.8 888.1 L297.8 888.0 L300.7 887.9 L303.7 887.8 L306.7 887.7 L309.7 887.6 L312.7 887.6 L315.7 887.5 L318.7 887.4 L321.7 887.4 L324.7 887.3 L327.7 887.2 L330.7 887.2 L333.6 887.2 L336.6 887.1 L339.6 887.1 L342.6 887.1 L345.6 887.0 L348.6 887.0 L351.6 887.0 L354.6 887.0 L357.6 887.0 L360.6 887.0 L363.6 887.0 L366.6 887.0 L369.5 887.0 L372.5 887.0 L375.5 887.0 L378.5 887.0 L381.5 887.0 L384.5 887.1 L387.5 887.1 L390.5 887.1 L393.5 887.2 L396.5 887.2 L399.5 887.3 L402.5 887.3 L405.5 887.4 L408.4 887.4 L411.4 887.5 L414.4 887.5 L417.4 887.6 L420.4 887.7 L423.4 887.7 L426.4 887.8 L429.4 887.9 L432.4 888.0 L435.4 888.1 L438.4 888.2 L441.4 888.3 L444.3 888.3 L447.3 888.4 L450.3 888.5 L453.3 888.6 L456.3 888.8 L459.3 888.9 L462.3 889.0 L465.3 889.1 L468.3 889.2 L471.3 889.3 L474.3 889.4 L477.3 889.6 L480.2 889.7 L483.2 889.8 L486.2 890.0 L489.2 890.1 L492.2 890.2 L495.2 890.4 L498.2 890.5 L501.2 890.7 L504.2 890.8 L507.2 891.0 L510.2 891.1 L513.2 891.3 L516.1 891.4 L519.1 891.6 L522.1 891.7 L525.1 891.9 L528.1 892.1 L531.1 892.2 L534.1 892.4 L537.1 892.5 L540.1 892.7 L543.1 892.9 L546.1 893.0 L549.0 893.2 L552.0 893.4 L555.0 893.5 L558.0 893.7 L561.0 893.9 L564.0 894.1 L567.0 894.2 L570.0 894.4 L573.0 894.6 L576.0 894.7 L578.9 894.9 L581.9 895.1 L584.9 895.3 L587.9 895.4 L590.9 895.6 L593.9 895.8 L596.9 895.9 L599.9 896.1 L602.9 896.3 L605.9 896.4 L608.9 896.6 L611.8 896.8 L614.8 896.9 L617.8 897.1 L620.8 897.3 L623.8 897.4 L626.8 897.6 L629.8 897.7 L632.8 897.9 L635.8 898.1 L638.8 898.2 L641.8 898.4 L644.7 898.5 L647.7 898.7 L650.7 898.8 L653.7 899.0 L656.7 899.1 L659.7 899.2 L662.7 899.4 L665.7 899.5 L668.7 899.6 L671.7 899.8 L674.7 899.9 L677.6 900.0 L680.6 900.2 L683.6 900.3 L686.6 900.4 L689.6 900.5 L692.6 900.6 L695.6 900.7 L698.6 900.8 L701.6 900.9 L704.6 901.0 L707.6 901.1 L710.6 901.2 L713.5 901.3 L716.5 901.4 L719.5 901.5 L722.5 901.5 L725.5 901.6 L728.5 901.7 L731.5 901.8 L734.5 901.8 L737.5 901.9 L740.5 901.9 L743.5 902.0 L746.5 902.0 L749.5 902.1 L752.5 902.1 L755.4 902.2 L758.4 902.2 L761.4 902.2 L764.4 902.3 L767.4 902.3 L770.4 902.3 L773.4 902.4 L776.4 902.4 L779.4 902.4 L782.4 902.4 L785.4 902.4 L788.4 902.4 L791.4 902.4 L794.4 902.5 L797.4 902.5 L800.3 902.5 L803.3 902.5 L806.3 902.5 L809.3 902.5 L812.3 902.4 L815.3 902.4 L818.3 902.4 L821.3 902.4 L824.3 902.4 L827.3 902.4 L830.3 902.4 L833.3 902.4 L836.3 902.3 L839.3 902.3 L842.3 902.3 L845.3 902.3 L848.2 902.2 L851.2 902.2 L854.2 902.2 L857.2 902.2 L860.2 902.1 L863.2 902.1 L866.2 902.1 L869.2 902.0 L872.2 902.0 L875.2 901.9 L878.2 901.9 L881.2 901.9 L884.2 901.8 L887.2 901.8 L890.2 901.7 L893.2 901.7 L896.2 901.7 L899.2 901.6 L902.2 901.6 L905.1 901.5 L908.1 901.5 L911.1 901.4 L914.1 901.4 L917.1 901.4 L920.1 901.3 L923.1 901.3 L926.1 901.2 L929.1 901.2 L932.1 901.1 L935.1 901.1 L938.1 901.0 L941.1 901.0 L944.1 900.9 L947.1 900.9 L950.1 900.8 L953.1 900.8 L956.1 900.8 L959.1 900.7 L962.0 900.7 L965.0 900.6 L968.0 900.6 L971.0 900.5 L974.0 900.5 L977.0 900.5 L980.0 900.4 L983.0 900.4 L986.0 900.3 L989.0 900.3 L992.0 900.3 L995.0 900.2 L998.0 900.2 L1001.0 900.2 L1004.0 900.1 L1007.0 900.1 L1010.0 900.1 L1013.0 900.0 L1016.0 900.0 L1018.9 900.0 L1021.9 900.0 L1024.9 900.0 L1027.9 899.9 L1030.9 899.9 L1033.9 899.9 L1036.9 899.9 L1039.9 899.9 L1042.9 899.8 L1045.9 899.8 L1048.9 899.8 L1051.9 899.8 L1054.9 899.8 L1057.9 899.8 L1060.9 899.8 L1063.9 899.8 L1066.9 899.8 L1069.8 899.8 L1072.8 899.8 L1075.8 899.8 L1078.8 899.9 L1081.8 899.9 L1084.8 899.9 L1087.8 899.9 L1090.8 899.9 L1093.8 900.0 L1096.8 900.0 L1099.8 900.0 L1102.8 900.1 L1105.8 900.1 L1108.8 900.1 L1111.8 900.2 L1114.8 900.2 L1117.8 900.3 L1120.7 900.3 L1123.7 900.4 L1126.7 900.4 L1129.7 900.5 L1132.7 900.6 L1135.7 900.6 L1138.7 900.7 L1141.7 900.8 L1144.7 900.9 L1147.7 900.9 L1150.7 901.0 L1153.7 901.1 L1156.7 901.2 L1159.7 901.3 L1162.7 901.4 L1165.6 901.5 L1168.6 901.6 L1171.6 901.7 L1174.6 901.8 L1177.6 901.9 L1180.6 902.0 L1183.6 902.1 L1186.6 902.2 L1189.6 902.4 L1192.6 902.5 L1195.6 902.6 L1198.6 902.7 L1201.6 902.8 L1204.5 902.9 L1207.5 903.0 L1210.5 903.1 L1213.5 903.2 L1216.5 903.3 L1219.5 903.4 L1222.5 903.4 L1225.5 903.5 L1228.5 903.6 L1231.5 903.7 L1234.5 903.8 L1237.5 903.8 L1240.5 903.9 L1243.4 903.9 L1246.4 904.0 L1249.4 904.0 L1252.4 904.1 L1255.4 904.1 L1258.4 904.1 L1261.4 904.1 L1264.4 904.1 L1267.4 904.1 L1270.4 904.1 L1273.4 904.1 L1276.4 904.1 L1279.4 904.1 L1282.3 904.0 L1285.3 904.0 L1288.3 903.9 L1291.3 903.9 L1294.3 903.8 L1297.3 903.7 L1300.3 903.6 L1303.3 903.5 L1306.3 903.4 L1309.3 903.3 L1312.3 903.2 L1315.3 903.1 L1318.2 903.0 L1321.2 902.8 L1324.2 902.7 L1327.2 902.5 L1330.2 902.3 L1333.2 902.1 L1336.2 902.0 L1339.2 901.8 L1342.2 901.5 L1345.2 901.3 L1348.2 901.1 L1351.1 900.9 L1354.1 900.6 L1357.1 900.3 L1360.1 900.1 L1363.1 899.8 L1366.1 899.5 L1369.1 899.2 L1372.1 898.9 L1375.1 898.6 L1378.1 898.2 L1381.0 897.9 L1384.0 897.5 L1387.0 897.2 L1390.0 896.8" stroke="#000" stroke-width="6.5" stroke-dasharray="34.5 21.5" stroke-dashoffset="53.0"/>
</g>
<g stroke="#000" fill="none">
<path d="M211.5 59.5 L211.5 1138.5 L1393.5 1138.5" stroke-width="7" stroke-linejoin="round"/>
<line x1="211.5" y1="59.6" x2="240" y2="59.6" stroke-width="6.5" stroke-linecap="round"/>
<line x1="211.5" y1="329.4" x2="240" y2="329.4" stroke-width="6.5" stroke-linecap="round"/>
<line x1="211.5" y1="599.2" x2="240" y2="599.2" stroke-width="6.5" stroke-linecap="round"/>
<line x1="211.5" y1="869.0" x2="240" y2="869.0" stroke-width="6.5" stroke-linecap="round"/>
<line x1="214" y1="127.0" x2="229" y2="127.0" stroke-width="2"/>
<line x1="214" y1="194.5" x2="229" y2="194.5" stroke-width="2"/>
<line x1="214" y1="261.9" x2="229" y2="261.9" stroke-width="2"/>
<line x1="214" y1="396.8" x2="229" y2="396.8" stroke-width="2"/>
<line x1="214" y1="464.3" x2="229" y2="464.3" stroke-width="2"/>
<line x1="214" y1="531.8" x2="229" y2="531.8" stroke-width="2"/>
<line x1="214" y1="666.6" x2="229" y2="666.6" stroke-width="2"/>
<line x1="214" y1="734.1" x2="229" y2="734.1" stroke-width="2"/>
<line x1="214" y1="801.5" x2="229" y2="801.5" stroke-width="2"/>
<line x1="214" y1="936.5" x2="229" y2="936.5" stroke-width="2"/>
<line x1="214" y1="1003.9" x2="229" y2="1003.9" stroke-width="2"/>
<line x1="214" y1="1071.3" x2="229" y2="1071.3" stroke-width="2"/>
<line x1="408.5" y1="1138.5" x2="408.5" y2="1110" stroke-width="6.5" stroke-linecap="round"/>
<line x1="605.5" y1="1138.5" x2="605.5" y2="1110" stroke-width="6.5" stroke-linecap="round"/>
<line x1="802.5" y1="1138.5" x2="802.5" y2="1110" stroke-width="6.5" stroke-linecap="round"/>
<line x1="999.5" y1="1138.5" x2="999.5" y2="1110" stroke-width="6.5" stroke-linecap="round"/>
<line x1="1196.5" y1="1138.5" x2="1196.5" y2="1110" stroke-width="6.5" stroke-linecap="round"/>
<line x1="1393.5" y1="1138.5" x2="1393.5" y2="1110" stroke-width="6.5" stroke-linecap="round"/>
<line x1="250.9" y1="1136" x2="250.9" y2="1121" stroke-width="2"/>
<line x1="290.3" y1="1136" x2="290.3" y2="1121" stroke-width="2"/>
<line x1="329.7" y1="1136" x2="329.7" y2="1121" stroke-width="2"/>
<line x1="369.1" y1="1136" x2="369.1" y2="1121" stroke-width="2"/>
<line x1="447.9" y1="1136" x2="447.9" y2="1121" stroke-width="2"/>
<line x1="487.3" y1="1136" x2="487.3" y2="1121" stroke-width="2"/>
<line x1="526.7" y1="1136" x2="526.7" y2="1121" stroke-width="2"/>
<line x1="566.1" y1="1136" x2="566.1" y2="1121" stroke-width="2"/>
<line x1="644.9" y1="1136" x2="644.9" y2="1121" stroke-width="2"/>
<line x1="684.3" y1="1136" x2="684.3" y2="1121" stroke-width="2"/>
<line x1="723.7" y1="1136" x2="723.7" y2="1121" stroke-width="2"/>
<line x1="763.1" y1="1136" x2="763.1" y2="1121" stroke-width="2"/>
<line x1="841.9" y1="1136" x2="841.9" y2="1121" stroke-width="2"/>
<line x1="881.3" y1="1136" x2="881.3" y2="1121" stroke-width="2"/>
<line x1="920.7" y1="1136" x2="920.7" y2="1121" stroke-width="2"/>
<line x1="960.1" y1="1136" x2="960.1" y2="1121" stroke-width="2"/>
<line x1="1038.9" y1="1136" x2="1038.9" y2="1121" stroke-width="2"/>
<line x1="1078.3" y1="1136" x2="1078.3" y2="1121" stroke-width="2"/>
<line x1="1117.7" y1="1136" x2="1117.7" y2="1121" stroke-width="2"/>
<line x1="1157.1" y1="1136" x2="1157.1" y2="1121" stroke-width="2"/>
<line x1="1235.9" y1="1136" x2="1235.9" y2="1121" stroke-width="2"/>
<line x1="1275.3" y1="1136" x2="1275.3" y2="1121" stroke-width="2"/>
<line x1="1314.7" y1="1136" x2="1314.7" y2="1121" stroke-width="2"/>
<line x1="1354.1" y1="1136" x2="1354.1" y2="1121" stroke-width="2"/>
</g>
<g class="t" font-size="56" fill="#000">
<g transform="translate(145.21,78.20)"><rect x="0.60" y="-17.00" width="16.00" height="5.00"/><text x="18.65" y="0">6</text></g>
<g transform="translate(145.21,348.00)"><rect x="0.60" y="-17.00" width="16.00" height="5.00"/><text x="18.65" y="0">4</text></g>
<g transform="translate(145.21,617.80)"><rect x="0.60" y="-17.00" width="16.00" height="5.00"/><text x="18.65" y="0">2</text></g>
<g transform="translate(163.86,887.60)"><text x="0.00" y="0" transform="translate(2.19,0) scale(0.937,1) translate(-2.19,0)">0</text></g>
<g transform="translate(163.86,1157.40)"><text x="0.00" y="0">2</text></g>
<g transform="translate(195.93,1190.40)"><text x="0.00" y="0" transform="translate(2.19,0) scale(0.937,1) translate(-2.19,0)">0</text></g>
<g transform="translate(377.36,1190.40)"><text x="0.00" y="0">6</text><text x="31.14" y="0" transform="translate(33.33,0) scale(0.937,1) translate(-33.33,0)">0</text></g>
<g transform="translate(558.78,1190.40)"><path d="M556 0V1190L183 922V1082L548 1430H731V0Z" transform="translate(0.00,0) scale(0.02734,-0.02734)"/><text x="31.14" y="0">2</text><text x="62.29" y="0" transform="translate(64.48,0) scale(0.937,1) translate(-64.48,0)">0</text></g>
<g transform="translate(755.78,1190.40)"><path d="M556 0V1190L183 922V1082L548 1430H731V0Z" transform="translate(0.00,0) scale(0.02734,-0.02734)"/><text x="31.14" y="0">8</text><text x="62.29" y="0" transform="translate(64.48,0) scale(0.937,1) translate(-64.48,0)">0</text></g>
<g transform="translate(952.78,1190.40)"><text x="0.00" y="0">2</text><text x="31.14" y="0">4</text><text x="62.29" y="0" transform="translate(64.48,0) scale(0.937,1) translate(-64.48,0)">0</text></g>
<g transform="translate(1149.78,1190.40)"><text x="0.00" y="0">3</text><text x="31.14" y="0" transform="translate(33.33,0) scale(0.937,1) translate(-33.33,0)">0</text><text x="62.29" y="0" transform="translate(64.48,0) scale(0.937,1) translate(-64.48,0)">0</text></g>
<g transform="translate(1346.78,1190.40)"><text x="0.00" y="0">3</text><text x="31.14" y="0">6</text><text x="62.29" y="0" transform="translate(64.48,0) scale(0.937,1) translate(-64.48,0)">0</text></g>
</g>
<text class="s" x="691" y="1271.5" font-size="70">&#x3D5;</text>
<text class="s" x="744" y="1271.5" font-size="70" font-weight="bold">(deg.)</text>
<g transform="translate(85.3,631.3) rotate(-90)" style="filter:grayscale(1)"><text class="s" x="0" y="0" font-size="72" font-weight="bold" font-style="italic" opacity="0.999">C</text><g transform="translate(40.4,0) scale(1.15,1) translate(-40.4,0)"><text class="s" x="42.8" y="21" font-size="41" font-weight="bold" font-style="italic" opacity="0.999">p</text></g></g>
<line x1="917.5" y1="139" x2="1169.3" y2="139" stroke="#000" stroke-width="6.5" stroke-linecap="round"/>
<line x1="917.5" y1="195.3" x2="1169.3" y2="195.3" stroke="#000" stroke-width="6.5" stroke-linecap="round" stroke-dasharray="37.5 18.5"/>
<text class="s" x="1212" y="157" font-size="56" font-weight="bold">PO</text>
<text class="s" x="1211" y="213" font-size="56" font-weight="bold">OF</text>
<g class="t" font-size="35.3" font-weight="bold" fill="#000" opacity="0.999">
<g transform="translate(451.70,293.70) scale(0.9570,1)"><text x="0.00" y="0">x</text><text x="19.63" y="0">/</text><text x="29.44" y="0">c</text><text x="49.07" y="0">=</text><text x="69.69" y="0">0</text><text x="89.32" y="0">.</text><text x="99.13" y="0">0</text><text x="118.76" y="0">0</text><text x="138.39" y="0">0</text><text x="158.02" y="0">2</text></g>
<g transform="translate(446.70,488.70) scale(0.9570,1)"><path d="M478 0V1170L140 959V1180L493 1430H759V0Z" transform="translate(49.07,0) scale(0.01724,-0.01724)"/><text x="0.00" y="0">0</text><text x="19.63" y="0">.</text><text x="29.44" y="0">0</text><text x="68.70" y="0">9</text><text x="88.34" y="0">4</text></g>
<g transform="translate(516.50,680.90) scale(0.9570,1)"><text x="0.00" y="0">0</text><text x="19.63" y="0">.</text><text x="29.44" y="0">2</text><text x="49.07" y="0">5</text><text x="68.70" y="0">9</text><text x="88.34" y="0">6</text></g>
<g transform="translate(606.50,810.60) scale(0.9570,1)"><text x="0.00" y="0">0</text><text x="19.63" y="0">.</text><text x="29.44" y="0">6</text><text x="49.07" y="0">4</text><text x="68.70" y="0">3</text><text x="88.34" y="0">0</text></g>
<g transform="translate(397.00,866.10) scale(0.9570,1)"><text x="0.00" y="0">0</text><text x="19.63" y="0">.</text><text x="29.44" y="0">9</text><text x="49.07" y="0">8</text><text x="68.70" y="0">4</text><text x="88.34" y="0">8</text></g>
</g>
</svg>
</body></html>
